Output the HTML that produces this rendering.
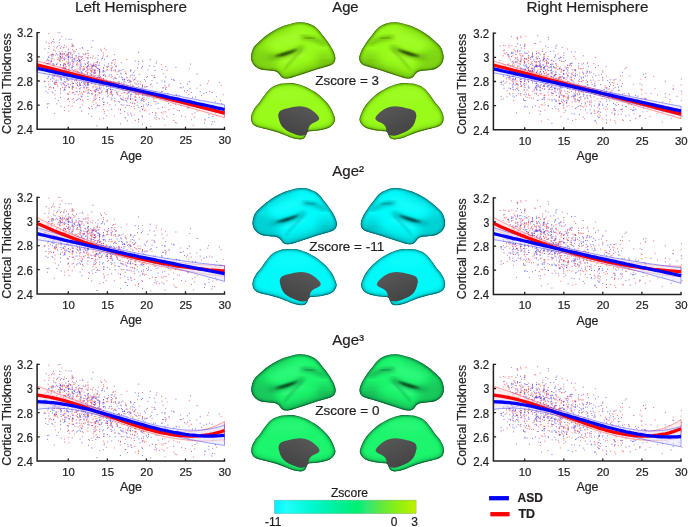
<!DOCTYPE html>
<html lang="en"><head><meta charset="utf-8"><title>Cortical thickness vs age</title>
<style>html,body{margin:0;padding:0;background:#fff}svg{display:block}text{font-family:"Liberation Sans",sans-serif;fill:#231f20;stroke:#231f20;stroke-width:.22px}</style>
</head><body>
<svg width="688" height="527" viewBox="0 0 688 527">
<defs>
<filter id="b07" x="-20%" y="-20%" width="140%" height="140%"><feGaussianBlur stdDeviation=".6"/></filter>
<filter id="b08" x="-20%" y="-40%" width="140%" height="180%"><feGaussianBlur stdDeviation=".85"/></filter>
<filter id="b1" x="-20%" y="-20%" width="140%" height="140%"><feGaussianBlur stdDeviation="1"/></filter>
<filter id="b2" x="-30%" y="-30%" width="160%" height="160%"><feGaussianBlur stdDeviation="2.2"/></filter>
<filter id="b4" x="-30%" y="-30%" width="160%" height="160%"><feGaussianBlur stdDeviation="4"/></filter>
<path id="lat" d="M251.00 57.50C250.98 56.27 251.22 54.83 251.50 53.50C251.78 52.17 252.17 50.75 252.70 49.50C253.23 48.25 253.77 47.17 254.70 46.00C255.63 44.83 257.05 43.68 258.30 42.50C259.55 41.32 260.75 40.13 262.20 38.90C263.65 37.67 265.45 36.25 267.00 35.10C268.55 33.95 269.87 33.02 271.50 32.00C273.13 30.98 275.03 29.92 276.80 29.00C278.57 28.08 280.32 27.22 282.10 26.50C283.88 25.78 285.72 25.25 287.50 24.70C289.28 24.15 291.22 23.58 292.80 23.20C294.38 22.82 295.80 22.57 297.00 22.40C298.20 22.23 298.63 22.15 300.00 22.20C301.37 22.25 303.58 22.38 305.20 22.70C306.82 23.02 308.18 23.50 309.70 24.10C311.22 24.70 312.90 25.42 314.30 26.30C315.70 27.18 316.97 28.25 318.10 29.40C319.23 30.55 320.10 31.93 321.10 33.20C322.10 34.47 323.08 35.68 324.10 37.00C325.12 38.32 326.18 39.68 327.20 41.10C328.22 42.52 329.28 44.05 330.20 45.50C331.12 46.95 331.98 48.38 332.70 49.80C333.42 51.22 334.07 52.72 334.50 54.00C334.93 55.28 335.20 56.47 335.30 57.50C335.40 58.53 335.32 59.32 335.10 60.20C334.88 61.08 334.57 62.05 334.00 62.80C333.43 63.55 332.72 64.13 331.70 64.70C330.68 65.27 329.42 65.68 327.90 66.20C326.38 66.72 324.37 67.28 322.60 67.80C320.83 68.32 319.20 68.73 317.30 69.30C315.40 69.87 313.22 70.55 311.20 71.20C309.18 71.85 307.22 72.52 305.20 73.20C303.18 73.88 301.13 74.63 299.10 75.30C297.07 75.97 294.68 76.70 293.00 77.20C291.32 77.70 290.17 78.07 289.00 78.30C287.83 78.53 286.92 78.62 286.00 78.60C285.08 78.58 284.20 78.43 283.50 78.20C282.80 77.97 282.35 77.67 281.80 77.20C281.25 76.73 280.72 76.02 280.20 75.40C279.68 74.78 279.27 74.08 278.70 73.50C278.13 72.92 277.62 72.33 276.80 71.90C275.98 71.47 275.07 71.12 273.80 70.90C272.53 70.68 270.85 70.75 269.20 70.60C267.55 70.45 265.53 70.28 263.90 70.00C262.27 69.72 260.72 69.40 259.40 68.90C258.08 68.40 257.02 67.77 256.00 67.00C254.98 66.23 254.03 65.32 253.30 64.30C252.57 63.28 251.98 62.03 251.60 60.90C251.22 59.77 251.02 58.73 251.00 57.50Z"/>
<path id="med" d="M251.00 117.90C251.05 116.70 251.30 115.33 251.70 114.10C252.10 112.87 252.72 111.77 253.40 110.50C254.08 109.23 254.93 107.67 255.80 106.50C256.67 105.33 257.68 104.63 258.60 103.50C259.52 102.37 260.42 100.97 261.30 99.70C262.18 98.43 263.02 97.10 263.90 95.90C264.78 94.70 265.72 93.57 266.60 92.50C267.48 91.43 268.25 90.42 269.20 89.50C270.15 88.58 271.15 87.72 272.30 87.00C273.45 86.28 274.72 85.73 276.10 85.20C277.48 84.67 278.97 84.13 280.60 83.80C282.23 83.47 284.25 83.32 285.90 83.20C287.55 83.08 289.05 83.05 290.50 83.10C291.95 83.15 293.03 83.23 294.60 83.50C296.17 83.77 298.13 84.15 299.90 84.70C301.67 85.25 303.43 86.00 305.20 86.80C306.97 87.60 308.87 88.62 310.50 89.50C312.13 90.38 313.48 91.08 315.00 92.10C316.52 93.12 318.20 94.45 319.60 95.60C321.00 96.75 322.13 97.75 323.40 99.00C324.67 100.25 326.07 101.72 327.20 103.10C328.33 104.48 329.32 105.90 330.20 107.30C331.08 108.70 331.83 110.10 332.50 111.50C333.17 112.90 333.77 114.45 334.20 115.70C334.63 116.95 335.03 118.00 335.10 119.00C335.17 120.00 335.03 120.68 334.60 121.70C334.17 122.72 333.35 124.15 332.50 125.10C331.65 126.05 330.63 126.77 329.50 127.40C328.37 128.03 327.10 128.47 325.70 128.90C324.30 129.33 322.75 129.68 321.10 130.00C319.45 130.32 317.45 130.60 315.80 130.80C314.15 131.00 312.43 131.10 311.20 131.20C309.97 131.30 309.08 131.18 308.40 131.40C307.72 131.62 307.45 131.97 307.10 132.50C306.75 133.03 306.62 133.87 306.30 134.60C305.98 135.33 305.63 136.23 305.20 136.90C304.77 137.57 304.47 138.17 303.70 138.60C302.93 139.03 301.75 139.42 300.60 139.50C299.45 139.58 298.07 139.32 296.80 139.10C295.53 138.88 294.05 138.47 293.00 138.20C291.95 137.93 291.80 137.98 290.50 137.50C289.20 137.02 286.97 136.02 285.20 135.30C283.43 134.58 281.67 133.85 279.90 133.20C278.13 132.55 276.38 131.95 274.60 131.40C272.82 130.85 270.98 130.35 269.20 129.90C267.42 129.45 265.53 129.08 263.90 128.70C262.27 128.32 260.78 128.02 259.40 127.60C258.02 127.18 256.68 126.75 255.60 126.20C254.52 125.65 253.60 125.12 252.90 124.30C252.20 123.48 251.72 122.37 251.40 121.30C251.08 120.23 250.95 119.10 251.00 117.90Z"/>
<path id="gry" d="M278.30 114.90C278.50 113.73 278.88 112.28 279.90 111.30C280.92 110.32 282.88 109.55 284.40 109.00C285.92 108.45 287.30 108.37 289.00 108.00C290.70 107.63 292.85 107.08 294.60 106.80C296.35 106.52 297.93 106.30 299.50 106.30C301.07 106.30 302.67 106.55 304.00 106.80C305.33 107.05 306.42 107.40 307.50 107.80C308.58 108.20 309.53 108.62 310.50 109.20C311.47 109.78 312.32 110.52 313.30 111.30C314.28 112.08 315.53 113.05 316.40 113.90C317.27 114.75 318.03 115.55 318.50 116.40C318.97 117.25 319.40 118.25 319.20 119.00C319.00 119.75 318.12 120.32 317.30 120.90C316.48 121.48 315.32 121.93 314.30 122.50C313.28 123.07 312.08 123.55 311.20 124.30C310.32 125.05 309.48 126.05 309.00 127.00C308.52 127.95 308.38 129.12 308.30 130.00C308.22 130.88 308.67 131.53 308.50 132.30C308.33 133.07 307.98 134.10 307.30 134.60C306.62 135.10 305.52 135.12 304.40 135.30C303.28 135.48 301.87 135.75 300.60 135.70C299.33 135.65 298.07 135.37 296.80 135.00C295.53 134.63 294.05 133.92 293.00 133.50C291.95 133.08 291.68 133.08 290.50 132.50C289.32 131.92 287.30 130.98 285.90 130.00C284.50 129.02 283.10 127.85 282.10 126.60C281.10 125.35 280.47 123.88 279.90 122.50C279.33 121.12 278.97 119.57 278.70 118.30C278.43 117.03 278.10 116.07 278.30 114.90Z"/>
<clipPath id="clat"><use href="#lat"/></clipPath>
<clipPath id="cmed"><use href="#med"/></clipPath>
<linearGradient id="cb" x1="0" y1="0" x2="1" y2="0">
<stop offset="0" stop-color="#00f0ff"/>
<stop offset="0.08" stop-color="#20ffff"/>
<stop offset="0.26" stop-color="#00f8d0"/>
<stop offset="0.43" stop-color="#00f0a0"/>
<stop offset="0.59" stop-color="#00f070"/>
<stop offset="0.65" stop-color="#30e878"/>
<stop offset="0.75" stop-color="#60e840"/>
<stop offset="0.88" stop-color="#90f010"/>
<stop offset="1" stop-color="#c0f000"/>
</linearGradient>
<linearGradient id="gg" x1="0.8" y1="0" x2="0.2" y2="1"><stop offset="0" stop-color="#585858"/><stop offset="1" stop-color="#424242"/></linearGradient>
</defs>
<g transform="translate(0 0)"><g id="br0"><g clip-path="url(#clat)"><use href="#lat" fill="#98fb1a"/><ellipse cx="263" cy="58.5" rx="15" ry="9" fill="#63aa10" opacity=".5" filter="url(#b4)" transform="rotate(20 263 58.5)"/><ellipse cx="325" cy="59.5" rx="10" ry="6.5" fill="#63aa10" opacity=".5" filter="url(#b4)"/><path d="M255 47C262 39 274 31.5 289 27" stroke="#63aa10" stroke-width="5" fill="none" stroke-linecap="round" filter="url(#b4)" opacity=".5"/><path d="M284 75.5C298 71.5 313 67 328 63" stroke="#63aa10" stroke-width="5" fill="none" stroke-linecap="round" filter="url(#b4)" opacity=".5"/><use href="#lat" fill="none" stroke="#63aa10" stroke-width="5" filter="url(#b2)" opacity=".55" transform="translate(0 -1.5)"/><use href="#lat" fill="none" stroke="#3c6e08" stroke-width="2.2" filter="url(#b1)" opacity=".8"/><use href="#lat" fill="none" stroke="#3c6e08" stroke-width="1.3" filter="url(#b07)" opacity=".9" transform="translate(0 -.25)"/><path d="M283 61C290 58.5 297 56 303 53" stroke="#b0ff40" stroke-width="4" fill="none" stroke-linecap="round" filter="url(#b2)" opacity=".7"/><ellipse cx="288" cy="40" rx="20" ry="6" fill="#b0ff40" opacity=".45" filter="url(#b4)" transform="rotate(-18 288 40)"/><path d="M270.5 57.3C281 56.8 293 53 302 47.6" stroke="#63aa10" stroke-width="4" fill="none" stroke-linecap="round" filter="url(#b2)" opacity=".85"/><path d="M275 56.2C281 54 289 51.4 297 49.5C290.5 53.6 282 56.4 275 56.2Z" fill="#030800" fill-opacity=".95" stroke="#030800" stroke-opacity=".6" stroke-width=".6" filter="url(#b08)"/><path d="M302 37C308 37.5 316 38.8 324.5 44" stroke="#63aa10" stroke-width="3" fill="none" stroke-linecap="round" filter="url(#b2)"/><path d="M305 37.3C308 37.5 311 38 314 38.6" stroke="#3c6e08" stroke-width="1.2" fill="none" stroke-linecap="round" filter="url(#b1)" opacity=".8"/><path d="M301.5 50.5C297 55 289 63 284.5 69.5" stroke="#63aa10" stroke-width="1.8" fill="none" stroke-linecap="round" filter="url(#b1)" opacity=".55"/></g><g clip-path="url(#cmed)"><use href="#med" fill="#98fb1a"/><use href="#med" fill="none" stroke="#63aa10" stroke-width="4.4" filter="url(#b2)" opacity=".45" transform="translate(0 -0.8)"/><use href="#med" fill="none" stroke="#3c6e08" stroke-width="2" filter="url(#b1)" opacity=".75"/><use href="#med" fill="none" stroke="#3c6e08" stroke-width="1.3" filter="url(#b07)" opacity=".9" transform="translate(0 -.25)"/><ellipse cx="290" cy="95" rx="22" ry="6" fill="#b0ff40" opacity=".3" filter="url(#b4)"/><use href="#gry" fill="url(#gg)"/></g></g>
<g transform="translate(694.6 0) scale(-1 1)"><use href="#br0"/></g></g>
<g transform="translate(1.5 165.8)"><g id="br165"><g clip-path="url(#clat)"><use href="#lat" fill="#00fafa"/><ellipse cx="263" cy="58.5" rx="15" ry="9" fill="#00a4aa" opacity=".5" filter="url(#b4)" transform="rotate(20 263 58.5)"/><ellipse cx="325" cy="59.5" rx="10" ry="6.5" fill="#00a4aa" opacity=".5" filter="url(#b4)"/><path d="M255 47C262 39 274 31.5 289 27" stroke="#00a4aa" stroke-width="5" fill="none" stroke-linecap="round" filter="url(#b4)" opacity=".5"/><path d="M284 75.5C298 71.5 313 67 328 63" stroke="#00a4aa" stroke-width="5" fill="none" stroke-linecap="round" filter="url(#b4)" opacity=".5"/><use href="#lat" fill="none" stroke="#00a4aa" stroke-width="5" filter="url(#b2)" opacity=".55" transform="translate(0 -1.5)"/><use href="#lat" fill="none" stroke="#006a70" stroke-width="2.2" filter="url(#b1)" opacity=".8"/><use href="#lat" fill="none" stroke="#006a70" stroke-width="1.3" filter="url(#b07)" opacity=".9" transform="translate(0 -.25)"/><path d="M283 61C290 58.5 297 56 303 53" stroke="#30ffff" stroke-width="4" fill="none" stroke-linecap="round" filter="url(#b2)" opacity=".7"/><ellipse cx="288" cy="40" rx="20" ry="6" fill="#30ffff" opacity=".45" filter="url(#b4)" transform="rotate(-18 288 40)"/><path d="M270.5 57.3C281 56.8 293 53 302 47.6" stroke="#00a4aa" stroke-width="4" fill="none" stroke-linecap="round" filter="url(#b2)" opacity=".85"/><path d="M275 56.2C281 54 289 51.4 297 49.5C290.5 53.6 282 56.4 275 56.2Z" fill="#030800" fill-opacity=".95" stroke="#030800" stroke-opacity=".6" stroke-width=".6" filter="url(#b08)"/><path d="M302 37C308 37.5 316 38.8 324.5 44" stroke="#00a4aa" stroke-width="3" fill="none" stroke-linecap="round" filter="url(#b2)"/><path d="M305 37.3C308 37.5 311 38 314 38.6" stroke="#006a70" stroke-width="1.2" fill="none" stroke-linecap="round" filter="url(#b1)" opacity=".8"/><path d="M301.5 50.5C297 55 289 63 284.5 69.5" stroke="#00a4aa" stroke-width="1.8" fill="none" stroke-linecap="round" filter="url(#b1)" opacity=".55"/></g><g clip-path="url(#cmed)"><use href="#med" fill="#00fafa"/><use href="#med" fill="none" stroke="#00a4aa" stroke-width="4.4" filter="url(#b2)" opacity=".45" transform="translate(0 -0.8)"/><use href="#med" fill="none" stroke="#006a70" stroke-width="2" filter="url(#b1)" opacity=".75"/><use href="#med" fill="none" stroke="#006a70" stroke-width="1.3" filter="url(#b07)" opacity=".9" transform="translate(0 -.25)"/><ellipse cx="290" cy="95" rx="22" ry="6" fill="#30ffff" opacity=".3" filter="url(#b4)"/><use href="#gry" fill="url(#gg)"/></g></g>
<g transform="translate(694.6 0) scale(-1 1)"><use href="#br165"/></g></g>
<g transform="translate(0.3 332)"><g id="br332"><g clip-path="url(#clat)"><use href="#lat" fill="#1cf56c"/><ellipse cx="263" cy="58.5" rx="15" ry="9" fill="#15994c" opacity=".5" filter="url(#b4)" transform="rotate(20 263 58.5)"/><ellipse cx="325" cy="59.5" rx="10" ry="6.5" fill="#15994c" opacity=".5" filter="url(#b4)"/><path d="M255 47C262 39 274 31.5 289 27" stroke="#15994c" stroke-width="5" fill="none" stroke-linecap="round" filter="url(#b4)" opacity=".5"/><path d="M284 75.5C298 71.5 313 67 328 63" stroke="#15994c" stroke-width="5" fill="none" stroke-linecap="round" filter="url(#b4)" opacity=".5"/><use href="#lat" fill="none" stroke="#15994c" stroke-width="5" filter="url(#b2)" opacity=".55" transform="translate(0 -1.5)"/><use href="#lat" fill="none" stroke="#0b6330" stroke-width="2.2" filter="url(#b1)" opacity=".8"/><use href="#lat" fill="none" stroke="#0b6330" stroke-width="1.3" filter="url(#b07)" opacity=".9" transform="translate(0 -.25)"/><path d="M283 61C290 58.5 297 56 303 53" stroke="#48ff90" stroke-width="4" fill="none" stroke-linecap="round" filter="url(#b2)" opacity=".7"/><ellipse cx="288" cy="40" rx="20" ry="6" fill="#48ff90" opacity=".45" filter="url(#b4)" transform="rotate(-18 288 40)"/><path d="M270.5 57.3C281 56.8 293 53 302 47.6" stroke="#15994c" stroke-width="4" fill="none" stroke-linecap="round" filter="url(#b2)" opacity=".85"/><path d="M275 56.2C281 54 289 51.4 297 49.5C290.5 53.6 282 56.4 275 56.2Z" fill="#030800" fill-opacity=".95" stroke="#030800" stroke-opacity=".6" stroke-width=".6" filter="url(#b08)"/><path d="M302 37C308 37.5 316 38.8 324.5 44" stroke="#15994c" stroke-width="3" fill="none" stroke-linecap="round" filter="url(#b2)"/><path d="M305 37.3C308 37.5 311 38 314 38.6" stroke="#0b6330" stroke-width="1.2" fill="none" stroke-linecap="round" filter="url(#b1)" opacity=".8"/><path d="M301.5 50.5C297 55 289 63 284.5 69.5" stroke="#15994c" stroke-width="1.8" fill="none" stroke-linecap="round" filter="url(#b1)" opacity=".55"/></g><g clip-path="url(#cmed)"><use href="#med" fill="#1cf56c"/><use href="#med" fill="none" stroke="#15994c" stroke-width="4.4" filter="url(#b2)" opacity=".45" transform="translate(0 -0.8)"/><use href="#med" fill="none" stroke="#0b6330" stroke-width="2" filter="url(#b1)" opacity=".75"/><use href="#med" fill="none" stroke="#0b6330" stroke-width="1.3" filter="url(#b07)" opacity=".9" transform="translate(0 -.25)"/><ellipse cx="290" cy="95" rx="22" ry="6" fill="#48ff90" opacity=".3" filter="url(#b4)"/><use href="#gry" fill="url(#gg)"/></g></g>
<g transform="translate(694.6 0) scale(-1 1)"><use href="#br332"/></g></g>
<g id="dotsL">
<path d="M96.4 89.1h.01M84.0 88.2h.01M79.1 59.9h.01M99.6 119.0h.01M77.9 78.3h.01M120.3 113.5h.01M101.1 87.9h.01M95.7 66.6h.01M56.8 76.6h.01M48.8 63.2h.01M58.2 80.1h.01M103.4 53.0h.01M94.3 65.1h.01M53.8 49.3h.01M103.5 102.3h.01M68.6 86.9h.01M68.6 54.0h.01M144.1 99.4h.01M91.7 81.8h.01M99.2 75.6h.01M99.6 99.8h.01M53.5 54.6h.01M101.7 81.3h.01M59.5 60.5h.01M125.2 100.3h.01M130.8 84.4h.01M130.5 102.7h.01M72.3 57.0h.01M78.8 56.4h.01M59.8 54.0h.01M87.9 68.8h.01M162.2 91.5h.01M68.9 111.2h.01M48.1 52.5h.01M92.3 82.3h.01M131.8 91.1h.01M82.0 78.8h.01M193.3 125.3h.01M84.4 83.5h.01M91.8 68.0h.01M61.3 46.8h.01M79.5 83.1h.01M129.6 105.4h.01M130.6 70.2h.01M155.5 112.9h.01M126.9 59.5h.01M112.7 84.9h.01M47.7 78.4h.01M64.4 54.2h.01M73.8 46.3h.01M120.5 110.2h.01M88.0 53.1h.01M122.0 93.3h.01M93.1 56.0h.01M62.6 74.3h.01M67.3 93.7h.01M105.1 75.3h.01M74.8 58.2h.01M48.8 33.6h.01M113.6 60.0h.01M142.5 85.5h.01M135.9 97.5h.01M137.3 102.2h.01M53.7 70.8h.01M185.5 116.7h.01M85.5 79.9h.01M64.4 107.4h.01M76.3 69.9h.01M69.0 70.8h.01M91.8 66.5h.01M97.0 87.1h.01M83.5 66.5h.01M96.7 98.3h.01M84.5 84.5h.01M68.6 98.4h.01M72.4 49.7h.01M112.2 76.6h.01M55.0 84.4h.01M73.5 72.7h.01M134.7 79.1h.01M99.5 73.3h.01M118.4 82.0h.01M90.5 90.5h.01M59.2 77.3h.01M77.4 71.6h.01M95.0 65.2h.01M77.4 85.5h.01M84.0 92.1h.01M97.4 62.7h.01M131.3 106.4h.01M76.1 56.3h.01M148.4 94.0h.01M90.6 64.2h.01M137.5 68.0h.01M146.4 86.7h.01M191.4 92.6h.01M142.6 109.8h.01M143.4 106.7h.01M188.8 94.6h.01M51.5 42.7h.01M63.5 47.8h.01M142.5 61.0h.01M47.1 60.3h.01M99.6 77.8h.01M98.1 65.1h.01M54.0 66.1h.01M64.5 70.0h.01M121.2 104.6h.01M115.8 71.9h.01M72.8 87.7h.01M66.6 61.9h.01M69.3 91.9h.01M111.3 68.6h.01M56.0 82.4h.01M92.6 65.5h.01M55.0 90.6h.01M135.1 100.2h.01M99.6 63.0h.01M162.9 113.4h.01M46.4 63.8h.01M48.4 72.4h.01M72.2 106.2h.01M177.7 98.9h.01M60.1 61.3h.01M162.0 117.8h.01M99.6 72.2h.01M99.6 92.8h.01M123.8 104.9h.01M62.8 68.5h.01M72.0 81.6h.01M58.1 32.8h.01M96.1 103.0h.01M209.6 91.6h.01M78.8 58.5h.01M114.4 116.2h.01M107.9 110.1h.01M99.6 72.3h.01M85.6 83.1h.01M165.4 95.9h.01M96.2 62.4h.01M75.9 78.1h.01M149.4 114.0h.01M106.2 80.2h.01M88.1 90.7h.01M189.4 99.6h.01M93.9 75.2h.01M73.4 92.6h.01M121.3 62.8h.01M82.8 58.5h.01M93.6 65.8h.01M81.2 92.2h.01M87.4 82.6h.01M52.7 74.4h.01M68.3 76.4h.01M69.6 87.5h.01M84.0 68.7h.01M103.5 78.8h.01M64.0 63.4h.01M88.1 84.3h.01M111.3 65.7h.01M60.5 65.2h.01M64.4 110.4h.01M192.2 114.0h.01M123.0 90.3h.01M87.9 62.0h.01M56.7 71.6h.01M188.3 108.1h.01M64.4 79.1h.01M77.5 63.0h.01M88.0 83.4h.01M110.2 93.9h.01M94.7 90.2h.01M92.9 70.0h.01M223.6 109.2h.01M98.8 105.8h.01M115.2 77.2h.01M132.8 103.4h.01M51.3 60.4h.01M72.2 65.7h.01M69.4 52.3h.01M94.0 63.0h.01M60.5 76.7h.01M60.5 70.5h.01M156.2 119.2h.01M80.0 48.6h.01M91.8 71.3h.01M83.1 53.9h.01M55.1 71.5h.01M88.6 107.8h.01M152.0 75.5h.01M69.2 69.0h.01M115.1 84.5h.01M153.9 98.3h.01M59.3 57.9h.01M138.6 86.7h.01M48.8 89.3h.01M126.4 74.2h.01M81.5 82.4h.01M60.5 75.0h.01M87.9 50.5h.01M72.2 57.5h.01M52.7 71.2h.01M150.7 126.3h.01M156.9 97.5h.01M62.8 60.5h.01M80.0 75.1h.01M76.1 91.4h.01M84.0 87.1h.01M57.8 86.2h.01M142.5 92.7h.01M96.5 67.3h.01M64.4 53.6h.01M76.1 83.6h.01M69.3 66.9h.01M87.2 68.0h.01M125.8 98.2h.01M126.7 93.0h.01M61.9 36.3h.01M98.7 77.4h.01M66.1 56.2h.01M51.1 72.3h.01M62.0 67.7h.01M93.9 104.6h.01M53.8 66.7h.01M70.3 52.8h.01M114.4 54.6h.01M70.9 52.9h.01M68.3 59.8h.01M64.4 68.2h.01M49.8 74.5h.01M83.8 77.6h.01M95.1 69.9h.01M98.6 92.3h.01M62.9 54.6h.01M63.5 83.7h.01M135.3 120.5h.01M64.4 84.3h.01M82.5 99.9h.01M60.5 88.7h.01M62.1 51.3h.01M54.1 69.4h.01M181.6 100.7h.01M80.9 56.7h.01M49.1 46.3h.01M95.7 87.0h.01M92.5 58.2h.01M93.6 72.8h.01M173.1 103.0h.01M90.7 70.9h.01M93.6 100.2h.01M72.2 83.2h.01M62.8 70.2h.01M92.0 68.9h.01M87.9 82.2h.01M64.4 71.0h.01M76.1 57.9h.01M95.7 58.1h.01M99.6 69.2h.01M74.0 52.8h.01M47.4 71.1h.01M103.1 86.8h.01M80.1 69.1h.01M64.4 73.6h.01M76.0 80.2h.01M59.4 42.8h.01M103.5 85.3h.01M79.6 88.3h.01M52.7 58.7h.01M107.4 56.0h.01M114.6 85.2h.01M86.0 57.3h.01M117.1 93.9h.01M54.0 73.8h.01M164.0 111.9h.01M107.1 85.8h.01M147.9 69.8h.01M54.3 83.9h.01M72.2 46.6h.01M80.0 89.1h.01M212.0 105.8h.01M92.1 65.5h.01M58.3 57.9h.01M116.8 82.9h.01M99.6 105.7h.01M69.5 65.1h.01M134.4 108.8h.01M156.8 61.1h.01M84.0 78.4h.01M63.8 66.0h.01M125.4 107.6h.01M110.8 92.2h.01M82.2 94.1h.01M67.1 55.0h.01M83.2 78.9h.01M114.5 77.9h.01M95.8 89.7h.01M123.0 97.0h.01M207.7 83.6h.01M111.3 99.8h.01M138.6 121.9h.01M94.7 72.9h.01M94.3 96.1h.01M177.3 110.2h.01M187.5 90.5h.01M88.8 89.3h.01M137.8 81.2h.01M54.1 76.7h.01M112.2 63.0h.01M53.9 46.4h.01M120.6 95.7h.01M80.0 77.1h.01M86.7 88.7h.01M65.9 66.5h.01M107.4 66.4h.01M131.0 114.1h.01M65.7 55.5h.01M82.7 94.7h.01M107.4 96.7h.01M73.5 98.7h.01M167.1 70.3h.01M106.4 82.4h.01M91.2 74.1h.01M101.6 91.8h.01M68.0 54.0h.01M55.2 98.4h.01M68.3 69.8h.01M106.1 49.9h.01M83.2 80.7h.01M66.5 69.4h.01M63.3 58.6h.01M95.2 91.5h.01M82.6 74.4h.01M132.5 78.2h.01M63.0 65.7h.01M91.8 72.4h.01M82.1 79.9h.01M119.1 83.3h.01M77.4 72.1h.01M208.5 81.0h.01M130.8 81.2h.01M72.2 75.0h.01M88.5 113.7h.01M130.8 81.4h.01M51.5 54.4h.01M70.4 84.6h.01M74.4 102.2h.01M44.9 81.8h.01M108.0 70.0h.01M48.8 81.4h.01M59.4 74.6h.01M99.6 77.5h.01M112.5 67.1h.01M110.2 85.0h.01M84.0 76.7h.01M76.4 80.9h.01M52.7 41.5h.01M221.2 85.1h.01M175.6 104.8h.01M72.2 92.4h.01M94.0 90.7h.01M84.8 66.8h.01M80.0 84.8h.01M61.9 54.9h.01M86.8 70.7h.01M134.7 89.1h.01M87.9 66.7h.01M108.8 76.7h.01M194.7 117.2h.01M100.0 85.9h.01M189.3 69.0h.01M72.4 89.6h.01M130.3 99.1h.01M181.4 87.9h.01M135.5 96.2h.01M72.5 83.7h.01M80.0 93.9h.01M73.0 63.5h.01M111.3 69.8h.01M88.3 55.6h.01M68.3 69.4h.01M59.2 51.9h.01M73.1 87.2h.01M94.2 76.3h.01M132.3 102.9h.01M113.2 83.3h.01M128.4 80.0h.01M169.0 86.2h.01M115.1 101.5h.01M56.6 47.9h.01M87.9 83.7h.01M56.6 82.5h.01M101.0 83.9h.01M51.3 87.9h.01M92.6 78.2h.01M100.5 76.8h.01M123.8 92.7h.01M94.8 71.0h.01M78.8 78.2h.01M137.7 94.4h.01M78.1 95.0h.01M64.3 68.4h.01M78.4 86.2h.01M55.1 73.4h.01M103.0 83.5h.01M50.5 62.7h.01M138.5 119.6h.01M93.1 102.0h.01M128.4 95.9h.01M60.1 60.7h.01M185.8 98.8h.01M163.2 87.8h.01M146.4 77.5h.01M91.8 70.5h.01M136.6 94.4h.01M92.8 93.9h.01M167.0 116.3h.01M50.9 72.8h.01M97.1 75.9h.01M175.2 100.0h.01M138.6 94.7h.01M142.5 98.3h.01M136.9 84.7h.01M103.3 79.0h.01M65.6 64.9h.01M119.1 83.4h.01M79.7 82.0h.01M85.3 91.2h.01M90.9 70.2h.01M95.5 73.0h.01M64.4 72.4h.01M130.3 98.3h.01M104.6 48.3h.01M161.4 112.4h.01M134.7 96.8h.01M100.9 77.3h.01M57.3 84.6h.01M94.3 77.1h.01M103.5 55.1h.01M107.4 69.6h.01M97.9 70.7h.01M76.9 63.9h.01M146.4 95.4h.01M103.5 67.8h.01M154.4 101.6h.01M71.4 77.5h.01M110.8 83.4h.01M165.4 88.1h.01M165.9 96.8h.01M61.6 58.1h.01M92.3 108.7h.01M82.4 56.7h.01M165.7 66.5h.01M115.8 66.7h.01M72.2 76.1h.01M95.0 92.0h.01M77.9 69.0h.01M97.7 95.0h.01M80.1 62.9h.01M106.1 91.2h.01M166.4 87.4h.01M139.2 74.4h.01M130.3 87.6h.01M134.7 104.0h.01M118.4 109.1h.01M93.1 87.8h.01M46.0 68.0h.01M63.0 53.1h.01M87.9 99.5h.01M115.2 70.7h.01M65.9 39.0h.01M95.3 70.2h.01M90.0 69.1h.01M90.5 77.7h.01M95.7 97.1h.01M125.0 82.1h.01M83.0 69.1h.01M89.8 66.2h.01M80.9 63.2h.01M68.3 63.7h.01M115.0 63.0h.01M214.7 122.0h.01M72.2 88.6h.01M117.4 93.1h.01M98.5 90.3h.01M50.1 55.1h.01M46.3 69.6h.01M72.2 45.1h.01M87.9 53.6h.01M55.3 55.1h.01M62.3 74.3h.01M64.6 59.8h.01M62.5 56.3h.01M56.3 83.0h.01M83.8 69.9h.01M124.7 79.4h.01M103.5 79.0h.01M64.4 45.3h.01M87.9 58.2h.01M95.7 91.8h.01M48.2 63.3h.01M143.9 109.0h.01M69.0 61.6h.01M56.2 80.0h.01M60.5 54.1h.01M80.8 68.3h.01M68.2 55.5h.01M142.5 98.1h.01M81.9 96.5h.01M53.5 39.6h.01M44.9 67.2h.01M73.6 51.0h.01M223.3 94.7h.01M60.5 57.8h.01M163.1 73.7h.01M64.4 63.9h.01M85.6 54.6h.01M103.9 104.8h.01M87.7 63.4h.01M44.9 68.2h.01M71.1 73.0h.01M107.4 83.6h.01M73.3 66.4h.01M112.8 60.7h.01M54.8 94.6h.01M59.8 67.1h.01M87.9 87.4h.01M87.8 58.9h.01M135.2 100.0h.01M80.0 67.0h.01M94.3 84.9h.01M87.9 66.5h.01M113.7 70.7h.01M111.3 91.2h.01M91.8 77.2h.01M134.7 114.9h.01M177.1 98.9h.01M68.3 57.2h.01M72.2 79.7h.01M72.2 54.4h.01M69.3 101.7h.01M72.2 99.3h.01M94.7 100.0h.01M130.8 99.5h.01M69.8 70.3h.01M111.3 86.3h.01M77.3 74.0h.01M102.6 71.0h.01M127.5 98.2h.01M62.5 87.6h.01M64.4 87.8h.01M100.6 49.3h.01M68.3 105.7h.01M89.6 79.9h.01M155.1 77.5h.01M68.2 62.8h.01M64.4 81.6h.01M98.4 80.3h.01M80.0 60.8h.01M121.1 70.5h.01M87.9 90.1h.01M60.5 56.5h.01M46.5 61.0h.01M106.4 66.7h.01M68.6 49.3h.01M95.7 84.6h.01M49.3 87.3h.01M67.4 63.9h.01M106.8 56.7h.01M144.9 86.3h.01M146.7 93.7h.01M161.6 64.7h.01M91.8 93.7h.01M140.2 81.6h.01M105.9 91.8h.01M82.0 73.8h.01M75.2 70.9h.01M66.5 46.8h.01M144.4 110.6h.01M93.0 86.5h.01M68.0 94.1h.01M87.9 69.2h.01M212.3 109.1h.01M54.3 60.1h.01M54.9 82.8h.01M173.7 108.5h.01M53.9 50.7h.01M170.8 105.3h.01M72.2 61.9h.01M111.3 77.2h.01M164.9 107.0h.01M165.2 125.2h.01M130.1 77.1h.01M91.0 75.1h.01M81.5 59.5h.01M82.3 105.0h.01M106.4 115.7h.01M156.2 113.0h.01M44.8 48.8h.01M79.0 65.0h.01M103.5 82.8h.01M78.1 71.3h.01M60.5 56.5h.01M116.9 91.8h.01M138.0 88.6h.01M65.7 67.3h.01M111.3 91.0h.01M180.6 83.4h.01M91.1 83.7h.01M146.4 99.3h.01M111.3 94.3h.01M76.4 80.0h.01M125.4 73.3h.01M115.2 90.6h.01M191.5 119.8h.01M54.4 113.5h.01M55.2 75.3h.01M67.6 99.6h.01M125.7 117.9h.01M152.1 86.7h.01M88.2 66.0h.01M104.3 111.5h.01M95.0 66.3h.01M51.4 58.9h.01M66.1 81.3h.01M142.5 84.9h.01M138.6 119.3h.01M159.4 118.7h.01M127.8 112.9h.01M44.2 81.2h.01M106.4 70.1h.01M109.7 104.7h.01M55.6 84.1h.01M216.7 115.5h.01M87.5 73.5h.01M144.0 101.5h.01M133.5 80.1h.01M123.2 100.3h.01M176.8 123.0h.01M87.8 84.2h.01M144.0 95.9h.01M114.8 100.6h.01M57.8 63.2h.01M72.2 44.0h.01M58.2 76.3h.01M52.3 65.5h.01M115.9 66.6h.01M54.3 76.4h.01M145.9 109.9h.01M83.5 91.7h.01M83.1 69.1h.01M57.3 59.6h.01M110.6 87.4h.01M64.2 68.6h.01M125.2 71.3h.01M126.9 78.0h.01M50.4 87.0h.01M116.3 87.4h.01M46.9 63.6h.01M134.7 82.9h.01M44.9 68.3h.01M61.0 78.2h.01M168.8 109.6h.01M103.5 109.5h.01M128.1 92.0h.01M44.5 73.9h.01M132.9 86.3h.01M65.9 85.4h.01M197.2 111.2h.01M95.5 94.5h.01M89.1 93.6h.01M51.4 55.7h.01M64.4 76.6h.01M91.8 71.8h.01M173.7 120.5h.01M166.9 101.1h.01M83.2 101.0h.01M58.7 75.3h.01M57.2 75.3h.01M201.5 95.6h.01M106.7 81.3h.01M60.5 71.2h.01M186.3 92.2h.01M119.1 85.8h.01M132.8 85.3h.01M138.7 83.8h.01M109.3 86.1h.01M75.1 77.3h.01M51.1 61.5h.01M55.5 73.7h.01M64.8 64.0h.01M118.3 71.7h.01M68.4 58.0h.01M135.3 100.1h.01M141.9 115.8h.01M187.2 105.8h.01M190.0 106.9h.01M196.8 88.2h.01M104.0 88.9h.01M100.9 85.2h.01M72.1 60.9h.01M106.5 91.3h.01M99.9 84.0h.01M72.2 46.2h.01M48.9 43.6h.01M176.1 94.6h.01M122.6 86.0h.01M62.8 83.9h.01M77.2 65.2h.01M135.7 93.6h.01M75.2 69.7h.01M111.3 93.7h.01M153.8 100.0h.01M141.4 99.1h.01M87.9 72.5h.01" stroke="#ff2a2a" stroke-opacity="0.7" stroke-width=".95" stroke-linecap="square" fill="none"/>
<path d="M181.6 116.0h.01M51.4 61.6h.01M52.7 78.3h.01M121.5 99.1h.01M73.1 64.8h.01M68.7 65.3h.01M55.0 82.0h.01M179.4 110.6h.01M165.7 89.5h.01M87.1 72.1h.01M72.7 86.1h.01M126.9 85.1h.01M148.1 95.0h.01M111.3 68.0h.01M91.8 91.0h.01M60.3 59.2h.01M103.5 75.5h.01M65.8 87.3h.01M53.1 55.8h.01M88.8 64.7h.01M155.3 115.4h.01M162.0 69.6h.01M77.0 91.5h.01M76.3 88.1h.01M187.8 107.5h.01M103.5 70.6h.01M140.1 84.0h.01M90.3 79.5h.01M130.8 70.0h.01M99.3 74.7h.01M174.0 80.5h.01M58.3 68.9h.01M120.4 123.8h.01M48.2 77.1h.01M118.3 101.6h.01M159.1 96.1h.01M119.1 84.8h.01M102.6 99.2h.01M126.9 105.2h.01M102.1 85.2h.01M54.7 74.0h.01M91.7 116.3h.01M66.0 58.7h.01M189.8 102.7h.01M134.9 91.0h.01M90.0 73.8h.01M112.1 99.1h.01M84.0 77.3h.01M183.3 87.1h.01M68.5 57.6h.01M161.7 91.3h.01M63.8 76.5h.01M80.8 87.8h.01M108.5 63.9h.01M122.6 79.6h.01M158.1 103.3h.01M80.1 107.4h.01M66.7 85.7h.01M95.8 107.8h.01M67.7 54.9h.01M79.9 72.9h.01M60.9 82.9h.01M131.7 94.0h.01M92.9 40.7h.01M133.3 72.5h.01M95.5 99.3h.01M73.2 76.1h.01M122.0 105.2h.01M60.5 97.3h.01M68.3 70.7h.01M150.3 59.6h.01M102.6 58.4h.01M138.6 91.3h.01M110.8 89.4h.01M57.8 68.6h.01M79.4 60.3h.01M154.8 117.9h.01M91.8 106.2h.01M138.6 64.1h.01M98.3 76.1h.01M60.5 48.2h.01M145.1 90.2h.01M84.0 54.7h.01M195.1 112.8h.01M87.9 70.2h.01M75.0 51.5h.01M79.8 60.5h.01M107.4 89.7h.01M48.8 57.3h.01M80.0 85.6h.01M45.9 91.6h.01M147.2 86.5h.01M97.9 59.3h.01M145.5 81.2h.01M204.5 123.0h.01M72.6 61.1h.01M150.3 85.0h.01M66.9 79.9h.01M47.4 107.6h.01M119.2 71.1h.01M68.3 60.0h.01M216.7 96.8h.01M131.7 115.8h.01M47.9 92.8h.01M95.9 64.5h.01M73.4 62.2h.01M136.0 83.8h.01M85.6 80.7h.01M167.9 93.5h.01M128.3 97.1h.01M118.9 90.9h.01M72.2 87.0h.01M93.0 75.0h.01M68.8 79.6h.01M61.2 57.8h.01M104.8 71.3h.01M122.0 99.3h.01M82.9 48.8h.01M99.6 97.5h.01M63.5 65.7h.01M72.0 57.7h.01M76.1 55.6h.01M48.8 103.7h.01M74.0 59.3h.01M60.5 53.6h.01M78.8 53.8h.01M47.3 103.9h.01M112.6 94.5h.01M165.3 100.3h.01M87.9 84.3h.01M114.3 64.7h.01M96.2 89.9h.01M130.8 71.2h.01M94.5 70.8h.01M52.9 92.9h.01M205.0 119.2h.01M52.0 78.0h.01M120.8 85.3h.01M134.2 75.7h.01M56.0 74.1h.01M76.1 61.1h.01M80.5 99.5h.01M96.9 125.9h.01M130.8 94.8h.01M56.6 64.5h.01M84.7 82.2h.01M138.9 107.3h.01M144.9 87.3h.01M149.7 65.8h.01M133.9 92.1h.01M84.0 87.5h.01M61.2 84.8h.01M154.2 66.5h.01M87.9 78.2h.01M129.9 80.2h.01M62.4 53.8h.01M52.7 54.7h.01M111.0 97.8h.01M190.0 88.7h.01M74.0 61.6h.01M56.6 64.0h.01M115.4 69.9h.01M110.7 92.3h.01M74.2 75.5h.01M53.9 79.0h.01M184.5 91.0h.01M77.3 84.9h.01M176.7 95.2h.01M53.5 87.6h.01M104.9 84.0h.01M66.6 78.4h.01M82.8 78.0h.01M114.8 83.0h.01M81.6 78.8h.01M128.7 92.4h.01M104.2 113.2h.01M68.3 56.6h.01M56.2 80.8h.01M64.4 76.3h.01M134.7 103.3h.01M60.2 56.8h.01M48.8 84.2h.01M130.8 82.1h.01M147.4 76.6h.01M57.4 46.7h.01M123.0 69.5h.01M70.2 64.3h.01M60.5 90.0h.01M116.1 65.9h.01M61.0 54.1h.01M121.2 74.2h.01M87.9 65.4h.01M57.5 70.3h.01M142.3 100.7h.01M68.2 56.9h.01M79.7 56.3h.01M119.6 102.0h.01M156.9 83.0h.01M73.8 70.5h.01M91.8 65.1h.01M63.3 68.2h.01M52.7 54.1h.01M107.5 67.3h.01M120.7 73.2h.01M164.1 119.2h.01M85.5 64.4h.01M221.3 103.3h.01M64.5 89.3h.01M70.1 62.8h.01M104.2 102.3h.01M48.8 56.9h.01M115.3 59.5h.01M88.6 85.1h.01M96.8 65.8h.01M53.3 64.0h.01M80.5 65.8h.01M115.2 105.1h.01M122.5 77.8h.01M97.2 77.7h.01M126.9 77.2h.01M87.0 76.9h.01M57.8 54.8h.01M65.8 68.4h.01M162.8 87.8h.01M111.3 63.1h.01M66.1 69.8h.01M132.6 75.0h.01M220.6 100.4h.01M44.9 62.1h.01M107.4 90.3h.01M98.1 68.2h.01M187.4 84.1h.01M131.5 90.7h.01M59.0 59.5h.01M115.8 78.5h.01M134.0 106.7h.01M80.0 70.0h.01M87.9 57.4h.01M61.4 78.9h.01M128.1 115.0h.01M95.5 76.0h.01M130.4 98.7h.01M82.3 47.5h.01M67.1 73.2h.01M71.9 73.5h.01M215.5 113.1h.01M165.0 94.6h.01M148.5 102.6h.01M165.9 111.9h.01M87.9 78.0h.01M95.7 91.1h.01M55.7 51.2h.01M128.0 105.7h.01M160.9 98.4h.01M80.3 85.4h.01M211.8 124.3h.01M64.1 47.3h.01M89.5 108.6h.01M101.4 59.1h.01M156.8 117.2h.01M167.6 97.5h.01M68.9 39.3h.01M142.5 124.0h.01M74.9 94.4h.01M134.7 70.9h.01M87.1 74.3h.01M140.9 100.2h.01M84.4 76.6h.01M141.5 106.5h.01M69.4 71.1h.01M104.5 59.3h.01M127.6 93.9h.01M97.4 77.4h.01M72.2 55.7h.01M197.2 73.9h.01M80.0 83.8h.01M155.4 91.5h.01M85.8 84.8h.01M117.4 94.7h.01M110.4 89.1h.01M83.1 85.2h.01M97.5 105.1h.01M58.4 100.6h.01M86.7 87.5h.01M90.8 75.8h.01M97.4 61.5h.01M68.7 80.6h.01M72.2 76.0h.01M48.9 60.3h.01M151.3 84.0h.01M72.2 75.2h.01M62.8 72.6h.01M46.3 42.1h.01M72.2 78.4h.01M143.5 100.0h.01M47.6 63.5h.01M193.3 106.9h.01M73.1 45.4h.01M61.8 76.6h.01M92.9 66.3h.01M87.9 63.2h.01M141.5 67.9h.01M87.9 96.4h.01M85.8 53.4h.01M96.2 79.0h.01M121.3 87.9h.01M168.4 103.6h.01M99.1 85.8h.01M124.5 92.4h.01M127.5 80.6h.01M100.9 79.5h.01M69.1 86.9h.01M76.6 75.3h.01M71.1 39.3h.01M192.5 97.3h.01M52.6 76.1h.01M155.1 70.6h.01M158.1 108.4h.01M117.0 87.4h.01M77.5 82.7h.01M99.5 83.6h.01M117.1 74.3h.01M99.7 71.6h.01M52.5 81.2h.01M69.1 74.8h.01M84.0 74.8h.01M67.2 78.6h.01M109.9 83.6h.01M97.6 90.2h.01M208.9 114.7h.01M81.7 74.9h.01M88.8 92.5h.01M195.5 97.1h.01M142.5 95.4h.01M64.8 85.7h.01M132.8 98.8h.01M67.6 79.7h.01M117.1 87.5h.01M87.9 75.4h.01M147.0 96.9h.01M126.6 100.7h.01M189.4 81.6h.01M80.0 61.9h.01M101.6 79.1h.01M130.8 75.3h.01M85.5 71.7h.01M76.1 78.2h.01M111.3 82.2h.01M138.6 52.4h.01M125.9 73.2h.01M70.2 57.9h.01M108.9 88.6h.01M103.0 72.3h.01M175.9 67.4h.01M72.2 67.3h.01M84.0 60.4h.01M200.3 85.2h.01M86.4 67.3h.01M68.3 49.7h.01M81.6 72.2h.01M80.0 68.0h.01M80.0 84.4h.01M190.5 64.1h.01M72.2 69.1h.01M56.3 69.3h.01M171.7 79.4h.01M106.8 89.4h.01M122.4 86.9h.01M107.4 93.8h.01M120.4 85.9h.01M130.8 94.9h.01M109.4 75.0h.01M55.4 72.7h.01M100.2 89.1h.01M66.8 76.9h.01M111.3 85.3h.01M99.6 87.7h.01M180.3 87.7h.01M68.4 63.0h.01M64.4 70.0h.01M65.2 89.7h.01M124.5 79.9h.01M63.9 90.7h.01M65.3 69.6h.01M132.2 89.0h.01M61.2 80.3h.01M54.4 82.9h.01M65.1 82.4h.01M101.4 50.8h.01M57.6 75.0h.01M97.4 82.6h.01M72.2 59.6h.01M142.5 86.5h.01M88.4 61.9h.01M212.4 121.8h.01M91.9 94.0h.01M98.9 80.7h.01M87.9 81.4h.01M76.1 72.1h.01M169.1 84.8h.01M152.4 112.6h.01M153.5 91.5h.01M66.1 72.9h.01M76.7 64.7h.01M60.8 69.1h.01M156.0 104.0h.01M212.8 116.6h.01M81.8 111.1h.01M93.5 64.3h.01M81.7 97.0h.01M112.7 89.8h.01M102.8 56.9h.01M110.7 89.5h.01M119.1 76.9h.01M102.9 84.2h.01M87.3 66.9h.01M170.7 99.2h.01M116.6 92.5h.01M70.7 53.7h.01M180.9 105.4h.01M94.0 98.2h.01M144.0 97.8h.01M94.2 71.0h.01M205.0 120.1h.01M206.5 92.5h.01M98.7 68.9h.01M91.8 47.3h.01M85.7 85.9h.01M121.5 77.0h.01M124.7 111.7h.01M48.8 76.3h.01M66.8 71.1h.01M179.1 95.3h.01M105.0 82.6h.01M49.1 71.5h.01M97.9 88.7h.01M70.9 79.8h.01M81.2 71.1h.01M65.5 64.3h.01M81.5 66.3h.01M64.4 57.8h.01M78.2 57.6h.01M68.4 99.0h.01M141.8 100.0h.01M83.1 78.4h.01M107.4 91.8h.01M74.0 58.8h.01M134.7 79.6h.01M104.9 83.3h.01M80.0 73.5h.01M154.2 77.5h.01M88.6 82.4h.01M106.5 86.7h.01M103.5 68.2h.01M104.2 74.7h.01M173.7 79.7h.01M105.3 76.5h.01M80.8 64.6h.01M60.9 79.5h.01M208.9 117.6h.01M172.0 100.0h.01M94.1 72.9h.01M62.2 57.8h.01M109.4 81.9h.01M68.3 76.1h.01M78.8 59.3h.01M169.8 100.0h.01M77.5 60.5h.01M59.9 39.8h.01M99.6 69.8h.01M52.0 56.9h.01M123.0 79.9h.01M65.6 68.8h.01M173.7 96.2h.01M56.6 70.1h.01M59.7 55.8h.01M79.2 98.4h.01M59.0 75.2h.01M90.0 68.2h.01M120.5 98.4h.01M86.5 78.3h.01M119.1 95.9h.01M103.2 74.9h.01M95.7 66.7h.01M65.8 51.4h.01M84.5 69.1h.01M146.4 104.1h.01M143.1 89.2h.01M124.2 79.1h.01M68.3 52.5h.01M71.1 68.0h.01M97.0 105.9h.01M203.9 93.5h.01M49.8 63.8h.01M95.7 72.0h.01M135.7 78.0h.01M83.0 70.4h.01M50.6 79.7h.01M142.1 87.5h.01M164.8 81.0h.01M191.3 104.6h.01M62.5 71.5h.01M53.7 88.2h.01M108.7 66.1h.01M87.9 84.4h.01M151.0 105.7h.01M74.6 80.6h.01M123.0 99.4h.01M135.1 94.2h.01M81.3 57.2h.01M212.0 92.5h.01M90.8 57.4h.01M219.3 82.4h.01M72.9 86.7h.01M60.5 64.6h.01M48.8 48.6h.01M156.2 63.2h.01M107.4 102.8h.01M81.0 96.0h.01M72.2 66.9h.01M77.9 79.6h.01M173.7 114.5h.01M124.0 81.8h.01M44.9 81.2h.01M56.8 103.8h.01M53.5 71.0h.01M110.7 81.6h.01M99.6 71.1h.01M144.4 79.6h.01M78.8 72.4h.01M81.7 79.1h.01M73.5 83.5h.01M130.8 113.1h.01M60.5 77.9h.01M74.7 59.8h.01M48.8 60.8h.01M135.2 61.1h.01M56.1 73.2h.01M76.4 100.3h.01M92.8 66.6h.01M80.0 60.4h.01M45.7 86.8h.01M120.4 109.5h.01M134.6 88.3h.01M99.6 70.1h.01M79.6 91.4h.01M92.0 83.2h.01M68.2 84.1h.01M64.4 89.3h.01M140.0 111.0h.01M215.6 101.9h.01M156.0 101.7h.01M96.4 89.1h.01M76.5 49.4h.01M126.9 101.9h.01M50.6 72.4h.01M142.5 109.2h.01M94.7 73.6h.01M175.2 122.4h.01M44.9 68.7h.01M114.8 87.4h.01M93.6 65.6h.01M87.7 93.1h.01M107.5 92.0h.01M84.0 79.8h.01M138.6 61.5h.01M60.5 93.0h.01M119.1 81.8h.01M162.5 107.4h.01M64.0 67.8h.01M94.0 69.5h.01M72.3 71.8h.01M123.9 83.7h.01M121.7 82.8h.01M111.7 92.3h.01M52.7 73.9h.01M142.5 116.7h.01M139.5 97.2h.01M68.3 84.2h.01M213.2 107.8h.01M91.8 67.8h.01M113.6 79.0h.01M52.7 64.0h.01M119.1 70.2h.01M61.0 106.3h.01M54.3 64.8h.01M102.4 81.6h.01M177.4 102.6h.01M73.0 92.9h.01M63.7 64.4h.01M164.9 82.1h.01M152.0 80.7h.01M95.7 80.7h.01M111.3 74.7h.01M64.6 59.2h.01M59.0 45.4h.01M56.6 53.7h.01M83.9 74.4h.01M138.2 90.4h.01M84.0 74.1h.01M99.6 77.3h.01M130.8 96.8h.01M47.5 59.3h.01M148.5 104.6h.01M112.4 95.7h.01M63.8 67.3h.01M87.4 85.6h.01M54.9 74.7h.01M125.2 117.9h.01M97.3 68.5h.01M87.9 77.6h.01M59.0 73.5h.01M116.1 78.6h.01M119.1 83.2h.01M127.9 98.9h.01M54.1 42.2h.01M83.5 82.9h.01M79.2 61.4h.01M142.5 66.6h.01M136.1 100.1h.01M118.4 84.6h.01M143.7 105.1h.01M99.1 65.3h.01M86.8 82.1h.01M95.7 95.4h.01M60.5 53.0h.01M111.3 70.7h.01M108.3 95.9h.01M162.0 81.0h.01M113.8 81.8h.01M60.0 32.8h.01M98.1 55.5h.01M99.6 88.6h.01M129.1 93.0h.01M99.6 93.2h.01M78.8 73.5h.01M103.5 81.0h.01M103.5 71.1h.01M64.3 71.3h.01M68.3 94.4h.01M101.1 92.7h.01M154.2 75.8h.01M104.4 65.3h.01M95.5 81.8h.01M119.0 88.2h.01M99.3 83.0h.01M54.4 70.8h.01M77.8 99.3h.01M165.1 85.9h.01M102.1 90.8h.01M64.4 70.5h.01M103.3 118.1h.01M91.6 75.1h.01M68.3 54.0h.01M127.4 120.9h.01M165.7 77.0h.01M129.1 82.4h.01M63.2 82.9h.01M103.6 104.6h.01M69.8 56.8h.01M82.0 72.4h.01M129.7 80.8h.01M53.8 75.0h.01M147.7 105.9h.01M200.2 91.5h.01M137.2 105.3h.01M84.8 63.8h.01M114.7 98.3h.01M52.1 91.8h.01M66.7 54.1h.01M111.7 109.3h.01M103.3 98.1h.01" stroke="#3535ff" stroke-opacity="0.7" stroke-width=".95" stroke-linecap="square" fill="none"/>
</g>
<g id="dotsR">
<path d="M583.3 80.6h.01M582.4 87.8h.01M509.0 45.4h.01M540.3 72.6h.01M551.5 66.0h.01M513.7 67.0h.01M524.9 79.7h.01M572.2 102.0h.01M540.3 78.2h.01M528.6 63.6h.01M509.0 47.0h.01M602.8 99.0h.01M574.9 96.4h.01M514.6 75.8h.01M587.2 72.7h.01M591.1 92.3h.01M560.8 90.9h.01M528.5 60.4h.01M538.3 95.5h.01M556.7 79.8h.01M505.7 66.6h.01M590.4 95.8h.01M558.8 100.2h.01M540.3 60.5h.01M560.7 57.0h.01M560.5 103.5h.01M575.5 86.7h.01M563.4 74.1h.01M526.0 36.1h.01M532.1 79.4h.01M559.6 97.4h.01M552.0 80.0h.01M645.8 73.7h.01M531.8 71.8h.01M540.3 71.6h.01M542.8 49.1h.01M513.5 100.7h.01M560.8 116.7h.01M522.9 56.1h.01M536.4 62.4h.01M525.3 92.3h.01M548.1 70.5h.01M559.8 82.1h.01M550.6 76.0h.01M567.7 98.1h.01M520.8 76.6h.01M536.4 88.0h.01M669.5 101.8h.01M536.4 78.0h.01M578.5 63.6h.01M608.1 89.4h.01M507.3 90.6h.01M561.2 76.8h.01M538.8 53.0h.01M559.8 78.4h.01M552.0 63.1h.01M579.4 90.5h.01M517.6 57.8h.01M512.9 82.0h.01M573.3 75.5h.01M559.8 104.1h.01M503.4 45.4h.01M544.9 110.0h.01M548.7 70.5h.01M508.9 69.2h.01M555.9 79.6h.01M571.6 80.5h.01M585.9 92.6h.01M520.5 83.2h.01M595.0 92.0h.01M602.8 92.2h.01M681.7 94.1h.01M548.1 47.7h.01M564.2 95.8h.01M503.8 64.5h.01M509.0 57.9h.01M547.8 85.3h.01M559.0 101.0h.01M548.1 87.2h.01M536.9 58.1h.01M583.8 95.7h.01M586.0 82.8h.01M539.8 86.9h.01M555.9 74.4h.01M575.2 98.9h.01M563.4 97.1h.01M512.0 65.5h.01M540.3 74.9h.01M536.4 51.6h.01M524.2 62.6h.01M546.0 52.7h.01M540.3 54.6h.01M537.3 80.6h.01M509.0 77.2h.01M667.6 110.6h.01M548.9 74.1h.01M576.1 85.8h.01M566.0 79.6h.01M536.7 65.2h.01M548.3 95.1h.01M622.4 119.8h.01M513.0 86.5h.01M549.5 99.8h.01M564.7 86.1h.01M538.0 70.1h.01M537.6 35.6h.01M579.4 81.7h.01M544.1 76.8h.01M581.8 68.8h.01M640.1 116.0h.01M585.8 86.9h.01M523.0 55.1h.01M547.2 66.0h.01M552.4 73.8h.01M552.8 85.6h.01M580.7 109.6h.01M575.5 90.9h.01M554.8 90.1h.01M515.3 57.4h.01M653.9 106.8h.01M538.3 66.3h.01M533.4 98.3h.01M503.5 50.4h.01M585.0 105.1h.01M606.4 122.8h.01M602.8 118.9h.01M503.3 75.2h.01M613.9 83.1h.01M540.3 64.7h.01M540.3 93.9h.01M528.6 70.5h.01M578.8 91.3h.01M606.5 122.9h.01M552.0 95.2h.01M539.3 106.9h.01M614.6 114.1h.01M547.9 119.4h.01M563.8 96.5h.01M536.4 88.9h.01M567.7 98.0h.01M574.6 100.9h.01M526.3 53.3h.01M513.6 73.1h.01M544.5 73.4h.01M512.9 55.8h.01M546.6 64.0h.01M609.2 88.8h.01M541.3 84.6h.01M501.1 82.0h.01M521.5 81.8h.01M561.7 90.8h.01M560.3 82.9h.01M525.8 72.3h.01M579.4 73.0h.01M526.5 72.8h.01M645.7 77.1h.01M598.9 80.5h.01M580.4 97.8h.01M563.6 70.9h.01M516.5 112.8h.01M555.9 60.0h.01M516.9 62.1h.01M606.7 92.6h.01M527.0 97.4h.01M548.6 39.7h.01M511.1 71.0h.01M536.4 76.6h.01M514.8 50.6h.01M517.4 71.6h.01M553.1 93.4h.01M509.0 56.4h.01M583.7 107.1h.01M548.1 67.0h.01M532.5 71.0h.01M536.4 57.0h.01M536.4 93.1h.01M544.2 57.8h.01M546.2 73.2h.01M535.7 43.7h.01M607.5 109.0h.01M563.8 55.5h.01M561.1 72.4h.01M505.1 53.6h.01M548.4 89.8h.01M611.1 91.2h.01M523.9 60.1h.01M618.3 114.3h.01M566.6 103.1h.01M565.8 96.9h.01M583.3 68.7h.01M533.8 71.1h.01M546.9 63.6h.01M612.5 95.7h.01M638.7 102.7h.01M619.0 98.2h.01M647.1 111.2h.01M622.4 83.5h.01M509.0 63.9h.01M577.1 85.6h.01M510.7 88.4h.01M520.3 64.7h.01M515.5 78.6h.01M524.7 78.4h.01M558.0 66.1h.01M520.8 86.4h.01M562.2 86.7h.01M612.1 90.4h.01M572.2 69.6h.01M505.1 73.8h.01M543.5 71.9h.01M588.0 88.5h.01M541.1 93.4h.01M572.6 120.5h.01M523.5 100.1h.01M541.4 66.8h.01M593.7 93.2h.01M517.8 89.4h.01M552.0 89.8h.01M545.8 83.8h.01M536.4 79.9h.01M570.7 87.3h.01M625.0 68.8h.01M544.2 89.1h.01M528.6 69.7h.01M542.4 88.3h.01M634.1 113.8h.01M523.5 83.9h.01M520.8 73.1h.01M532.3 81.6h.01M588.3 87.7h.01M552.0 76.6h.01M586.7 106.3h.01M517.6 39.1h.01M544.2 95.1h.01M519.7 63.8h.01M520.7 36.1h.01M568.5 97.0h.01M544.1 56.6h.01M620.2 80.0h.01M554.4 75.6h.01M542.7 105.1h.01M511.9 45.4h.01M509.0 65.2h.01M614.3 109.1h.01M532.5 53.4h.01M563.8 95.4h.01M556.4 65.1h.01M589.9 102.1h.01M669.3 94.4h.01M597.3 112.6h.01M546.2 83.9h.01M635.6 118.4h.01M578.1 100.5h.01M547.0 75.2h.01M559.8 85.4h.01M603.4 94.9h.01M633.6 84.3h.01M531.3 74.5h.01M541.2 104.7h.01M513.0 72.0h.01M600.4 95.7h.01M544.8 61.6h.01M655.1 88.7h.01M641.9 90.1h.01M562.5 87.3h.01M563.8 74.3h.01M528.6 94.1h.01M528.7 52.0h.01M555.5 74.4h.01M543.7 69.1h.01M665.5 109.2h.01M530.3 71.6h.01M585.2 102.3h.01M544.2 68.3h.01M559.1 103.0h.01M572.9 72.6h.01M518.1 60.5h.01M593.6 63.6h.01M628.5 104.0h.01M617.1 102.7h.01M546.8 75.0h.01M525.0 70.2h.01M601.1 98.8h.01M534.2 90.7h.01M564.3 101.5h.01M507.1 74.9h.01M511.2 71.6h.01M544.2 95.4h.01M544.9 95.2h.01M520.8 73.9h.01M507.8 54.9h.01M569.9 89.4h.01M508.8 56.1h.01M528.6 56.9h.01M591.3 82.2h.01M551.5 86.2h.01M569.2 92.5h.01M559.0 111.2h.01M560.6 93.6h.01M545.6 70.4h.01M521.1 86.4h.01M614.6 79.8h.01M561.5 61.3h.01M558.6 88.0h.01M520.4 55.2h.01M615.7 122.8h.01M563.1 100.1h.01M515.0 73.7h.01M532.3 72.9h.01M536.4 77.2h.01M512.0 80.6h.01M534.6 43.5h.01M596.4 91.2h.01M630.1 99.2h.01M567.8 75.2h.01M558.9 79.7h.01M547.2 81.7h.01M527.8 80.2h.01M538.3 100.3h.01M570.3 63.6h.01M512.9 81.7h.01M544.4 102.8h.01M559.8 95.2h.01M563.8 108.9h.01M511.4 36.4h.01M645.8 99.2h.01M580.6 68.6h.01M524.7 48.3h.01M536.5 65.7h.01M593.8 86.0h.01M605.6 109.5h.01M527.5 72.8h.01M520.8 78.9h.01M626.7 102.4h.01M577.7 100.1h.01M552.0 60.4h.01M535.2 62.2h.01M547.1 79.7h.01M520.8 95.3h.01M605.2 87.7h.01M563.1 70.4h.01M569.3 87.3h.01M572.0 106.7h.01M520.8 62.9h.01M532.0 56.7h.01M629.1 94.7h.01M564.0 112.3h.01M541.2 74.8h.01M602.8 70.7h.01M520.3 68.0h.01M524.7 63.3h.01M547.8 83.3h.01M575.4 88.6h.01M562.3 47.5h.01M567.7 65.1h.01M516.9 73.3h.01M538.6 81.0h.01M552.0 79.6h.01M540.3 41.9h.01M532.2 69.8h.01M583.3 74.2h.01M541.8 81.8h.01M524.3 90.2h.01M613.8 80.1h.01M559.0 83.6h.01M509.0 78.7h.01M574.2 98.7h.01M603.8 108.2h.01M622.4 111.7h.01M574.1 69.6h.01M529.4 66.2h.01M610.6 84.7h.01M517.4 73.9h.01M559.8 77.4h.01M584.9 89.3h.01M568.6 67.9h.01M539.4 62.9h.01M518.1 63.3h.01M591.1 104.0h.01M532.9 91.7h.01M520.8 81.8h.01M560.6 92.8h.01M559.8 91.0h.01M562.5 102.7h.01M640.8 79.1h.01M528.6 67.7h.01M575.9 119.6h.01M509.8 83.6h.01M543.9 97.5h.01M645.8 101.2h.01M515.4 51.7h.01M598.1 111.3h.01M539.2 65.8h.01M548.1 82.7h.01M532.5 55.5h.01M578.9 68.8h.01M583.7 86.7h.01M606.7 87.7h.01M540.1 75.7h.01M528.6 77.6h.01M623.4 120.4h.01M532.1 68.0h.01M583.2 92.3h.01M530.2 78.2h.01M581.6 91.9h.01M597.2 98.8h.01M529.0 87.9h.01M557.7 90.1h.01M566.4 67.7h.01M552.2 83.5h.01M598.9 75.1h.01M598.9 114.1h.01M567.2 106.2h.01M662.6 101.8h.01M524.7 58.8h.01M532.5 83.1h.01M503.1 55.8h.01M564.3 70.1h.01M543.1 60.3h.01M575.5 90.2h.01M528.6 72.6h.01M525.4 96.1h.01M555.9 81.0h.01M531.4 68.5h.01M570.2 65.0h.01M569.2 105.7h.01M551.3 92.6h.01M594.4 110.4h.01M559.8 69.0h.01M540.1 114.3h.01M524.1 87.0h.01M574.1 56.5h.01M527.8 61.6h.01M610.6 120.0h.01M572.2 88.2h.01M536.4 61.5h.01M520.8 61.1h.01M516.9 71.9h.01M639.7 116.7h.01M504.1 52.9h.01M527.5 71.6h.01M605.3 85.9h.01M665.4 97.3h.01M584.9 99.0h.01M562.1 61.6h.01M579.4 97.5h.01M515.4 61.6h.01M528.5 81.5h.01M520.8 73.1h.01M517.8 72.5h.01M524.8 80.8h.01M609.9 95.9h.01M505.1 45.8h.01M558.0 53.7h.01M589.5 71.5h.01M517.5 71.3h.01M544.2 54.9h.01M641.9 98.3h.01M629.3 76.1h.01M524.3 89.7h.01M681.4 79.1h.01M657.8 113.5h.01M612.3 82.5h.01M511.8 74.3h.01M528.6 58.0h.01M577.2 93.4h.01M552.2 108.6h.01M558.9 97.2h.01M579.7 93.7h.01M567.2 85.1h.01M662.2 122.1h.01M568.0 96.9h.01M541.2 79.2h.01M555.9 78.0h.01M516.9 81.0h.01M563.8 107.3h.01M629.6 98.9h.01M505.1 70.8h.01M506.7 52.6h.01M613.7 108.5h.01M531.3 62.9h.01M552.0 93.4h.01M579.0 85.7h.01M681.3 100.3h.01M611.9 93.2h.01M614.6 114.9h.01M594.1 96.8h.01M526.1 84.0h.01M578.9 92.2h.01M657.5 94.9h.01M505.1 65.2h.01M587.5 81.9h.01M517.5 66.9h.01M543.4 59.5h.01M570.7 79.7h.01M673.3 85.8h.01M555.2 75.6h.01M567.4 49.1h.01M640.0 83.7h.01M529.3 97.9h.01M513.3 63.0h.01M638.0 103.2h.01M503.4 98.9h.01M509.8 79.8h.01M516.9 75.4h.01M597.7 107.2h.01M600.5 94.9h.01M584.4 118.9h.01M619.6 90.4h.01M526.8 59.5h.01M546.0 72.3h.01M532.7 78.1h.01M557.3 81.7h.01M556.0 88.3h.01M517.3 51.2h.01M571.6 79.4h.01M587.6 62.5h.01M595.0 100.7h.01M548.1 56.4h.01M566.0 93.7h.01M543.0 79.2h.01M506.7 81.8h.01M629.2 95.5h.01M631.4 104.6h.01M524.7 61.2h.01M543.8 54.3h.01M567.0 86.2h.01M578.3 83.7h.01M561.8 69.7h.01M554.6 81.6h.01M567.7 93.9h.01M512.0 61.8h.01M567.2 77.8h.01M546.8 66.1h.01M673.1 89.0h.01M577.6 99.3h.01M540.3 68.9h.01M602.8 78.9h.01M524.7 77.6h.01M645.8 99.2h.01M544.2 86.3h.01M560.4 80.3h.01M524.7 44.3h.01M528.0 69.0h.01M682.1 116.2h.01M584.6 86.4h.01M544.2 73.7h.01M617.5 84.3h.01M547.9 99.0h.01M568.1 99.6h.01M573.8 89.0h.01M529.8 95.6h.01M555.9 64.0h.01M578.8 102.2h.01M513.6 89.9h.01M543.2 86.5h.01M524.7 58.4h.01M531.9 63.7h.01M559.3 68.4h.01M515.7 58.9h.01M507.1 96.8h.01M638.0 99.8h.01M510.0 94.6h.01M621.6 109.7h.01M567.7 91.5h.01M573.0 95.7h.01M519.7 61.7h.01M512.9 79.6h.01M622.4 76.0h.01M624.3 93.5h.01M575.8 70.7h.01M526.2 59.5h.01M516.1 54.7h.01M546.0 78.2h.01M575.7 58.8h.01M517.8 84.5h.01M618.5 94.4h.01M532.2 72.8h.01M544.2 80.3h.01M620.2 97.0h.01M538.7 86.4h.01M615.1 87.5h.01M566.7 73.3h.01M528.5 70.2h.01M531.9 61.6h.01M580.8 106.0h.01M596.5 122.9h.01M598.9 105.1h.01M633.7 107.5h.01M595.3 57.5h.01M586.8 95.8h.01M546.5 62.1h.01M554.6 67.9h.01M521.0 37.6h.01M536.4 72.5h.01M555.9 71.3h.01M541.3 78.8h.01M506.4 79.0h.01M516.9 83.6h.01M649.9 116.5h.01M515.9 46.5h.01M634.1 99.6h.01M572.9 89.8h.01M587.2 92.3h.01M589.4 101.8h.01M538.0 75.3h.01M528.6 72.3h.01M536.2 64.3h.01M595.0 81.3h.01M520.1 94.0h.01M558.6 78.7h.01M569.5 65.4h.01M582.4 106.3h.01M575.5 92.2h.01M514.6 65.2h.01M681.0 84.9h.01M533.0 64.1h.01M591.1 97.1h.01M552.0 72.2h.01M548.4 62.8h.01M534.4 67.7h.01M653.6 76.4h.01M541.5 69.6h.01M516.6 84.1h.01M515.2 79.8h.01M532.8 75.1h.01M618.5 104.5h.01M541.2 66.5h.01M559.8 77.2h.01M620.5 75.9h.01M600.6 84.5h.01M606.5 76.0h.01M589.5 104.8h.01M559.8 89.0h.01M567.2 75.0h.01M582.3 89.4h.01M567.8 76.0h.01M561.3 79.3h.01M536.4 83.6h.01M525.0 44.8h.01M546.5 60.4h.01M528.6 95.1h.01M512.3 76.5h.01M608.8 98.7h.01M521.8 59.3h.01M606.7 99.6h.01M587.1 113.0h.01M556.0 68.6h.01M661.5 106.9h.01M513.8 49.3h.01M558.9 77.6h.01M641.2 89.3h.01M572.2 74.4h.01M528.6 58.3h.01M515.9 75.7h.01M560.1 67.1h.01M512.8 64.1h.01M600.1 115.4h.01M587.8 98.5h.01M503.1 70.2h.01M536.0 66.9h.01M641.8 94.1h.01M594.9 111.7h.01M521.0 58.4h.01M516.4 69.1h.01M516.9 84.1h.01M526.4 58.3h.01M579.6 101.2h.01M566.8 103.0h.01M645.9 93.1h.01M579.4 76.0h.01M615.5 110.5h.01M547.2 61.9h.01M536.8 59.0h.01M528.6 79.3h.01M516.9 38.0h.01M524.2 71.0h.01M618.3 97.8h.01M538.8 110.8h.01M582.3 81.0h.01M587.4 101.7h.01M636.8 97.3h.01M531.4 98.1h.01M565.1 66.9h.01M539.1 53.0h.01M587.2 63.8h.01M524.7 61.4h.01M602.8 92.0h.01M541.4 121.2h.01M510.0 77.4h.01M523.9 71.3h.01M578.7 67.8h.01M563.8 96.3h.01M527.7 68.0h.01M540.3 76.1h.01M559.8 76.7h.01M598.9 101.9h.01M522.2 56.0h.01M519.4 54.0h.01M614.8 120.7h.01M544.2 59.6h.01M519.7 80.0h.01M625.7 106.5h.01M574.3 70.6h.01M530.7 70.5h.01M551.3 70.4h.01M557.8 69.5h.01M520.8 59.9h.01M524.8 78.2h.01M645.3 118.5h.01M571.1 76.0h.01M561.2 71.2h.01" stroke="#ff2a2a" stroke-opacity="0.7" stroke-width=".95" stroke-linecap="square" fill="none"/>
<path d="M571.6 65.7h.01M601.5 95.3h.01M512.9 53.5h.01M580.1 105.6h.01M524.7 45.9h.01M571.6 51.9h.01M552.0 93.7h.01M574.3 87.0h.01M567.7 86.9h.01M618.5 90.6h.01M556.2 101.3h.01M635.6 95.4h.01M537.5 65.9h.01M574.3 95.9h.01M568.1 119.2h.01M554.9 91.5h.01M548.1 85.4h.01M581.0 77.2h.01M560.0 92.0h.01M598.9 111.3h.01M550.7 70.8h.01M670.0 99.6h.01M539.8 66.2h.01M590.6 90.8h.01M530.7 59.3h.01M628.7 93.4h.01M558.4 109.1h.01M568.9 82.1h.01M583.3 77.7h.01M501.1 70.5h.01M578.7 65.9h.01M662.4 112.0h.01M499.8 60.4h.01M578.2 106.4h.01M540.8 77.5h.01M633.1 110.2h.01M517.9 88.0h.01M555.9 101.1h.01M524.2 70.6h.01M543.6 71.7h.01M515.3 82.1h.01M561.4 101.6h.01M540.3 90.6h.01M665.3 93.7h.01M566.6 102.6h.01M543.1 60.9h.01M523.5 99.0h.01M529.0 70.6h.01M547.3 69.0h.01M593.8 73.9h.01M554.0 87.3h.01M598.9 105.3h.01M509.5 93.2h.01M681.4 91.2h.01M562.3 85.1h.01M510.8 78.8h.01M515.5 78.8h.01M541.5 73.8h.01M615.2 97.5h.01M555.9 63.5h.01M527.2 106.9h.01M577.4 74.8h.01M580.8 96.5h.01M519.9 74.3h.01M560.7 87.4h.01M565.0 85.2h.01M544.6 66.9h.01M623.8 96.6h.01M542.1 99.5h.01M527.8 75.5h.01M532.5 77.0h.01M510.4 66.2h.01M509.0 71.0h.01M505.1 72.4h.01M524.7 58.4h.01M566.2 100.6h.01M626.3 67.6h.01M520.8 81.7h.01M526.9 89.9h.01M549.1 67.6h.01M575.5 70.6h.01M616.0 79.2h.01M564.1 61.5h.01M526.5 67.0h.01M602.0 93.5h.01M505.3 65.5h.01M608.8 96.3h.01M630.9 109.5h.01M544.7 54.0h.01M524.6 46.4h.01M528.1 74.3h.01M512.9 75.4h.01M587.2 97.6h.01M554.9 106.3h.01M503.4 81.2h.01M524.7 81.6h.01M559.8 82.5h.01M581.6 103.7h.01M595.0 121.2h.01M586.3 80.1h.01M583.5 63.1h.01M525.1 106.0h.01M595.0 94.5h.01M543.0 64.8h.01M515.4 89.8h.01M575.5 108.4h.01M537.3 75.9h.01M535.9 79.6h.01M552.0 89.7h.01M555.2 56.1h.01M602.8 72.0h.01M544.2 68.1h.01M535.2 76.9h.01M643.6 108.1h.01M575.5 73.3h.01M514.9 75.6h.01M536.6 53.6h.01M567.7 65.5h.01M591.1 100.3h.01M568.8 73.1h.01M559.8 58.3h.01M540.3 66.9h.01M585.5 103.7h.01M507.9 75.1h.01M545.7 83.2h.01M553.4 78.2h.01M516.9 71.6h.01M584.0 94.2h.01M567.7 71.1h.01M504.7 50.1h.01M634.1 109.8h.01M512.9 93.7h.01M519.0 66.6h.01M571.6 84.9h.01M507.8 64.3h.01M549.7 89.2h.01M525.2 68.8h.01M548.1 92.1h.01M530.4 57.7h.01M555.4 54.9h.01M512.3 85.1h.01M529.4 113.1h.01M615.2 104.4h.01M583.3 96.2h.01M539.1 73.0h.01M534.0 74.5h.01M523.7 65.2h.01M548.2 37.2h.01M577.6 94.8h.01M590.1 95.7h.01M606.7 88.2h.01M548.3 106.0h.01M563.8 70.5h.01M520.6 81.4h.01M563.8 104.0h.01M516.9 84.2h.01M613.6 88.8h.01M609.6 82.6h.01M543.5 58.0h.01M571.5 77.8h.01M549.3 89.1h.01M535.5 66.4h.01M535.6 76.0h.01M556.8 44.9h.01M535.4 105.8h.01M563.8 57.8h.01M621.5 86.4h.01M551.2 72.5h.01M532.5 75.4h.01M554.8 88.0h.01M537.0 89.6h.01M563.3 105.4h.01M545.7 46.3h.01M551.2 64.4h.01M540.3 65.6h.01M518.1 65.8h.01M574.3 114.0h.01M580.9 91.1h.01M529.5 71.4h.01M587.2 71.3h.01M534.2 89.4h.01M563.8 77.8h.01M512.9 74.0h.01M527.4 72.3h.01M538.0 86.8h.01M581.4 81.5h.01M555.9 78.4h.01M545.1 105.0h.01M548.1 59.2h.01M555.9 46.4h.01M501.2 82.4h.01M532.9 56.5h.01M539.9 90.2h.01M626.3 106.7h.01M550.7 51.5h.01M554.0 75.9h.01M581.8 64.1h.01M513.0 65.8h.01M595.6 75.7h.01M520.8 73.9h.01M554.6 57.4h.01M517.4 43.8h.01M583.3 77.0h.01M579.4 94.7h.01M551.0 83.5h.01M561.2 95.0h.01M575.1 75.7h.01M536.5 66.5h.01M643.0 111.9h.01M533.9 59.9h.01M552.0 86.9h.01M553.8 51.2h.01M602.8 80.3h.01M645.2 77.6h.01M607.5 104.7h.01M614.2 110.7h.01M501.2 96.4h.01M510.3 59.9h.01M575.8 101.8h.01M571.5 63.3h.01M531.4 70.9h.01M561.3 69.1h.01M512.9 89.2h.01M551.6 86.9h.01M534.3 70.9h.01M517.8 59.4h.01M510.4 89.0h.01M526.8 66.9h.01M573.3 96.5h.01M516.9 58.1h.01M590.2 92.4h.01M511.5 74.1h.01M555.9 72.4h.01M551.5 60.4h.01M512.0 73.3h.01M517.4 52.0h.01M575.2 99.6h.01M595.0 86.1h.01M621.3 114.0h.01M587.7 85.0h.01M524.7 85.4h.01M520.5 70.4h.01M618.5 87.1h.01M562.1 95.3h.01M606.4 119.9h.01M532.1 75.8h.01M563.8 73.4h.01M540.3 71.5h.01M501.2 82.4h.01M592.6 77.1h.01M529.4 77.0h.01M555.9 67.6h.01M558.8 93.2h.01M594.7 83.7h.01M544.7 58.4h.01M535.1 83.8h.01M517.8 75.0h.01M539.0 65.4h.01M540.6 67.3h.01M592.1 84.3h.01M533.3 75.3h.01M544.2 99.6h.01M558.1 79.8h.01M534.8 93.3h.01M567.7 81.2h.01M524.8 107.0h.01M565.6 60.4h.01M563.8 52.9h.01M553.0 71.8h.01M540.3 87.9h.01M556.5 83.9h.01M566.3 68.9h.01M539.5 65.1h.01M540.6 85.8h.01M601.3 74.3h.01M550.9 67.0h.01M609.6 86.5h.01M567.7 87.9h.01M535.8 74.2h.01M575.5 95.5h.01M525.8 69.3h.01M514.0 80.1h.01M512.9 52.5h.01M553.1 77.9h.01M522.0 68.3h.01M555.9 74.4h.01M533.8 69.0h.01M630.2 120.6h.01M532.5 54.3h.01M616.0 94.7h.01M521.0 79.5h.01M579.2 100.5h.01M544.2 86.4h.01M673.2 112.1h.01M531.0 73.0h.01M602.7 105.7h.01M551.5 76.5h.01M530.1 70.9h.01M538.1 85.1h.01M517.4 37.7h.01M559.8 82.2h.01M534.3 68.9h.01M520.8 69.7h.01M634.1 102.5h.01M520.6 61.3h.01M532.5 53.0h.01M549.6 78.8h.01M520.8 84.3h.01M515.8 62.5h.01M532.5 71.3h.01M519.3 74.1h.01M562.3 76.5h.01M524.1 94.7h.01M531.5 80.1h.01M536.8 90.1h.01M513.2 78.5h.01M536.2 65.9h.01M516.9 74.0h.01M574.0 93.8h.01M528.6 55.4h.01M514.5 70.6h.01M501.2 99.7h.01M629.2 115.2h.01M595.0 85.0h.01M574.7 78.7h.01M548.1 74.5h.01M572.8 80.9h.01M521.7 85.5h.01M574.2 86.7h.01M509.0 88.1h.01M528.6 86.0h.01M639.9 115.4h.01M513.4 83.5h.01M513.3 76.1h.01M550.7 82.2h.01M568.3 95.7h.01M610.7 79.8h.01M613.5 103.4h.01M665.4 81.2h.01M673.2 89.1h.01M504.0 88.3h.01M559.8 68.4h.01M544.1 98.2h.01M517.5 50.4h.01M604.2 89.6h.01M556.4 95.5h.01M561.1 88.1h.01M551.9 99.8h.01M508.0 54.7h.01M600.6 112.2h.01M545.7 81.6h.01M570.2 77.6h.01M524.7 73.4h.01M610.4 92.5h.01M604.9 98.7h.01M516.9 61.6h.01M525.1 87.6h.01M545.0 69.7h.01M518.7 90.6h.01M512.9 69.2h.01M563.8 100.2h.01M530.1 77.8h.01M525.3 65.1h.01M539.5 58.5h.01M524.3 100.5h.01M535.9 87.5h.01M591.5 106.0h.01M589.8 72.9h.01M553.0 93.3h.01M544.2 67.6h.01M555.3 88.7h.01M559.4 103.6h.01M569.7 83.5h.01M561.8 99.8h.01M535.9 65.3h.01M545.6 66.2h.01M538.3 56.9h.01M599.2 108.8h.01M558.9 58.7h.01M587.3 75.9h.01M525.2 100.7h.01M555.9 48.3h.01M560.9 57.6h.01M512.9 87.5h.01M548.1 74.3h.01M585.4 109.8h.01M623.0 101.8h.01M539.7 74.3h.01M534.3 66.7h.01M513.2 84.4h.01M504.1 71.6h.01M503.3 85.0h.01M564.6 78.0h.01M536.6 66.5h.01M536.4 75.3h.01M567.3 67.4h.01M590.8 80.2h.01M622.4 94.1h.01M602.7 77.5h.01M554.3 99.4h.01M501.2 71.5h.01M548.3 105.7h.01M522.6 73.8h.01M524.7 81.0h.01M551.7 67.8h.01M559.8 89.0h.01M622.4 109.2h.01M547.7 80.5h.01M548.5 81.3h.01M540.8 69.7h.01M518.1 85.9h.01M598.9 117.5h.01M575.5 69.8h.01M555.9 100.1h.01M635.7 109.2h.01M567.1 101.0h.01M550.9 66.8h.01M574.7 95.1h.01M532.5 57.2h.01M673.2 115.4h.01M573.7 82.0h.01M544.2 66.9h.01M534.7 61.5h.01M536.6 94.2h.01M555.9 86.8h.01M532.8 76.7h.01M555.9 108.6h.01M530.6 64.4h.01M587.8 84.7h.01M559.8 74.7h.01M552.0 101.0h.01M600.6 91.4h.01M551.3 73.5h.01M539.8 61.7h.01M554.6 88.7h.01M532.6 65.3h.01M606.0 66.3h.01M521.0 79.7h.01M506.8 77.5h.01M543.1 82.7h.01M591.1 113.7h.01M534.4 81.2h.01M588.4 66.4h.01M671.1 118.7h.01M528.6 77.5h.01M537.3 58.6h.01M677.1 96.3h.01M516.0 69.0h.01M509.8 76.6h.01M552.0 81.8h.01M624.0 99.7h.01M543.5 67.7h.01M541.9 76.4h.01M553.6 66.5h.01M583.3 116.9h.01M520.8 60.9h.01M547.1 86.7h.01M532.3 75.1h.01M544.2 84.4h.01M537.7 66.9h.01M510.8 73.4h.01M563.5 73.9h.01M505.1 83.1h.01M522.4 70.5h.01M546.0 60.2h.01M586.3 73.3h.01M535.9 81.4h.01M574.8 84.4h.01M606.7 101.2h.01M543.5 79.6h.01M574.9 86.3h.01M641.9 85.0h.01M568.2 75.9h.01M559.8 60.5h.01M536.4 53.3h.01M590.1 109.9h.01M563.8 78.7h.01M536.4 82.8h.01M537.3 100.4h.01M611.9 113.0h.01M564.8 91.1h.01M595.5 67.6h.01M565.2 82.4h.01M520.5 75.8h.01M563.8 83.7h.01M571.6 96.7h.01M517.0 69.9h.01M535.5 77.3h.01M512.9 96.1h.01M550.4 87.5h.01M513.9 62.6h.01M588.1 91.8h.01M551.4 69.9h.01M559.4 96.5h.01M524.0 72.2h.01M553.9 67.5h.01M599.1 117.4h.01M580.9 99.2h.01M622.3 105.3h.01M512.9 76.0h.01M616.3 105.6h.01M536.4 72.1h.01M550.6 64.5h.01M510.5 66.4h.01M607.7 80.6h.01M548.3 63.5h.01M632.7 110.3h.01M517.2 68.4h.01M587.2 95.6h.01M535.2 66.1h.01M540.4 82.2h.01M563.8 86.0h.01M521.4 48.0h.01M540.6 79.7h.01M597.8 116.2h.01M544.9 76.3h.01M554.2 76.2h.01M512.9 79.3h.01M558.1 80.6h.01M511.5 56.5h.01M515.1 79.7h.01M629.5 103.6h.01M540.0 87.4h.01M532.5 70.3h.01M528.6 76.2h.01M501.2 84.3h.01M526.4 76.2h.01M622.4 72.3h.01M514.2 97.1h.01M520.8 93.3h.01M560.7 77.3h.01M526.5 94.4h.01M643.5 74.3h.01M542.4 99.4h.01M544.8 97.3h.01M536.9 83.7h.01M521.0 57.0h.01M571.6 73.6h.01M579.4 79.3h.01M606.6 91.1h.01M511.5 52.4h.01M579.4 114.5h.01M524.6 69.5h.01M570.2 63.9h.01M625.9 115.8h.01M520.8 68.2h.01M531.4 56.9h.01M543.4 59.2h.01M595.0 94.2h.01M598.3 65.7h.01M525.0 66.2h.01M583.4 73.1h.01M614.9 113.3h.01M591.1 102.2h.01M574.1 97.3h.01M542.7 51.4h.01M540.6 111.3h.01M565.7 110.7h.01M593.3 80.0h.01M619.7 96.5h.01M551.9 123.4h.01M503.7 76.6h.01M609.8 100.8h.01M515.9 54.3h.01M571.8 113.6h.01M544.2 85.6h.01M552.7 64.4h.01M524.7 62.3h.01M528.8 87.9h.01M567.7 88.4h.01M559.6 103.6h.01M525.0 53.5h.01M509.0 77.5h.01M587.2 71.2h.01M613.4 85.4h.01M515.1 85.0h.01M575.6 88.7h.01M581.5 78.7h.01M528.4 67.7h.01M572.2 63.1h.01M508.4 54.7h.01M644.3 98.3h.01M575.2 76.2h.01M536.4 86.3h.01M585.0 98.0h.01M526.7 65.0h.01M537.4 71.1h.01M516.6 88.3h.01M569.1 85.7h.01M614.6 109.0h.01M543.6 85.7h.01M521.1 53.8h.01M594.6 105.8h.01M536.4 85.4h.01M587.7 81.7h.01M553.6 79.0h.01M558.0 78.9h.01M576.3 107.7h.01M624.2 99.9h.01M583.3 94.1h.01M606.2 107.0h.01M600.6 101.8h.01M561.0 86.4h.01M543.3 65.1h.01M520.5 45.1h.01M567.3 82.3h.01M520.8 50.9h.01M530.5 72.8h.01M594.9 113.6h.01M622.4 98.2h.01M591.2 72.1h.01M527.2 53.3h.01M535.1 88.3h.01M583.3 55.9h.01M599.2 103.9h.01M620.7 109.3h.01M548.1 86.2h.01M519.4 51.2h.01M638.3 96.1h.01M585.6 75.9h.01M532.5 107.2h.01M549.8 79.7h.01M581.7 89.7h.01M512.9 61.2h.01M678.9 111.0h.01M511.4 53.7h.01M602.8 104.1h.01M606.3 115.3h.01M516.3 95.8h.01M553.7 61.4h.01M575.5 75.1h.01M544.6 88.9h.01M582.6 72.1h.01M602.5 96.4h.01M565.1 84.9h.01M518.2 93.4h.01M575.7 94.2h.01M507.1 69.0h.01M537.0 72.7h.01M528.5 82.0h.01M538.4 61.5h.01M524.7 52.1h.01M555.9 92.3h.01M554.8 74.3h.01M591.6 113.1h.01M532.3 68.6h.01M568.5 98.1h.01M548.1 80.6h.01M612.8 94.0h.01M552.7 83.1h.01M546.7 62.7h.01M599.4 104.3h.01M549.9 85.6h.01M563.3 77.7h.01M559.8 82.0h.01M523.3 69.1h.01M545.0 80.6h.01M535.4 87.0h.01M650.9 93.7h.01M594.5 90.4h.01M540.3 63.2h.01M547.3 58.7h.01M559.8 86.6h.01M524.4 83.7h.01M571.6 91.4h.01M537.7 85.2h.01M595.0 120.6h.01M500.1 46.0h.01M578.7 80.9h.01M575.1 51.9h.01M557.7 89.0h.01M541.7 68.0h.01M645.3 98.7h.01M606.7 95.9h.01M567.7 69.4h.01M517.9 71.8h.01" stroke="#3535ff" stroke-opacity="0.7" stroke-width=".95" stroke-linecap="square" fill="none"/>
</g>
<g>
<polygon points="37.1,60.8 41.0,61.9 44.9,63.1 48.8,64.2 52.7,65.3 56.6,66.5 60.5,67.6 64.4,68.7 68.3,69.8 72.2,70.9 76.1,72.0 80.0,73.0 84.0,74.1 87.9,75.2 91.8,76.2 95.7,77.3 99.6,78.3 103.5,79.4 107.4,80.4 111.3,81.4 115.2,82.4 119.1,83.4 123.0,84.4 126.9,85.4 130.8,86.4 134.7,87.4 138.6,88.4 142.5,89.4 146.4,90.3 150.3,91.3 154.2,92.3 158.1,93.2 162.0,94.2 165.9,95.1 169.8,96.1 173.7,97.0 177.7,97.9 181.6,98.9 185.5,99.8 189.4,100.7 193.3,101.6 197.2,102.5 201.1,103.4 205.0,104.3 208.9,105.2 212.8,106.1 216.7,107.0 220.6,107.9 224.5,108.8 224.5,117.7 220.6,116.5 216.7,115.4 212.8,114.3 208.9,113.1 205.0,112.0 201.1,110.9 197.2,109.8 193.3,108.7 189.4,107.6 185.5,106.5 181.6,105.4 177.7,104.3 173.7,103.2 169.8,102.1 165.9,101.0 162.0,99.9 158.1,98.9 154.2,97.8 150.3,96.8 146.4,95.7 142.5,94.7 138.6,93.6 134.7,92.6 130.8,91.6 126.9,90.5 123.0,89.5 119.1,88.5 115.2,87.5 111.3,86.5 107.4,85.5 103.5,84.5 99.6,83.5 95.7,82.5 91.8,81.5 87.9,80.6 84.0,79.6 80.0,78.7 76.1,77.7 72.2,76.8 68.3,75.9 64.4,75.0 60.5,74.0 56.6,73.1 52.7,72.2 48.8,71.4 44.9,70.5 41.0,69.6 37.1,68.7" fill="#ffffff" fill-opacity=".55" stroke="none"/>
<polygon points="37.1,60.8 41.0,61.9 44.9,63.1 48.8,64.2 52.7,65.3 56.6,66.5 60.5,67.6 64.4,68.7 68.3,69.8 72.2,70.9 76.1,72.0 80.0,73.0 84.0,74.1 87.9,75.2 91.8,76.2 95.7,77.3 99.6,78.3 103.5,79.4 107.4,80.4 111.3,81.4 115.2,82.4 119.1,83.4 123.0,84.4 126.9,85.4 130.8,86.4 134.7,87.4 138.6,88.4 142.5,89.4 146.4,90.3 150.3,91.3 154.2,92.3 158.1,93.2 162.0,94.2 165.9,95.1 169.8,96.1 173.7,97.0 177.7,97.9 181.6,98.9 185.5,99.8 189.4,100.7 193.3,101.6 197.2,102.5 201.1,103.4 205.0,104.3 208.9,105.2 212.8,106.1 216.7,107.0 220.6,107.9 224.5,108.8 224.5,117.7 220.6,116.5 216.7,115.4 212.8,114.3 208.9,113.1 205.0,112.0 201.1,110.9 197.2,109.8 193.3,108.7 189.4,107.6 185.5,106.5 181.6,105.4 177.7,104.3 173.7,103.2 169.8,102.1 165.9,101.0 162.0,99.9 158.1,98.9 154.2,97.8 150.3,96.8 146.4,95.7 142.5,94.7 138.6,93.6 134.7,92.6 130.8,91.6 126.9,90.5 123.0,89.5 119.1,88.5 115.2,87.5 111.3,86.5 107.4,85.5 103.5,84.5 99.6,83.5 95.7,82.5 91.8,81.5 87.9,80.6 84.0,79.6 80.0,78.7 76.1,77.7 72.2,76.8 68.3,75.9 64.4,75.0 60.5,74.0 56.6,73.1 52.7,72.2 48.8,71.4 44.9,70.5 41.0,69.6 37.1,68.7" fill="#ff0000" fill-opacity=".06" stroke="#ff0000" stroke-width=".5" stroke-opacity=".75"/>
<polygon points="37.1,64.3 41.0,65.3 44.9,66.3 48.8,67.3 52.7,68.2 56.6,69.2 60.5,70.2 64.4,71.1 68.3,72.1 72.2,73.0 76.1,74.0 80.0,74.9 84.0,75.8 87.9,76.7 91.8,77.6 95.7,78.5 99.6,79.4 103.5,80.3 107.4,81.2 111.3,82.0 115.2,82.9 119.1,83.8 123.0,84.6 126.9,85.5 130.8,86.3 134.7,87.1 138.6,88.0 142.5,88.8 146.4,89.6 150.3,90.4 154.2,91.2 158.1,92.0 162.0,92.8 165.9,93.6 169.8,94.4 173.7,95.2 177.7,95.9 181.6,96.7 185.5,97.5 189.4,98.2 193.3,99.0 197.2,99.7 201.1,100.5 205.0,101.2 208.9,101.9 212.8,102.6 216.7,103.4 220.6,104.1 224.5,104.8 224.5,114.2 220.6,113.2 216.7,112.2 212.8,111.2 208.9,110.2 205.0,109.2 201.1,108.2 197.2,107.2 193.3,106.2 189.4,105.3 185.5,104.3 181.6,103.4 177.7,102.4 173.7,101.5 169.8,100.5 165.9,99.6 162.0,98.7 158.1,97.7 154.2,96.8 150.3,95.9 146.4,95.0 142.5,94.1 138.6,93.2 134.7,92.3 130.8,91.4 126.9,90.6 123.0,89.7 119.1,88.8 115.2,88.0 111.3,87.1 107.4,86.3 103.5,85.4 99.6,84.6 95.7,83.8 91.8,82.9 87.9,82.1 84.0,81.3 80.0,80.5 76.1,79.7 72.2,79.0 68.3,78.2 64.4,77.4 60.5,76.6 56.6,75.9 52.7,75.1 48.8,74.4 44.9,73.7 41.0,73.0 37.1,72.2" fill="#ffffff" fill-opacity=".55" stroke="none"/>
<polygon points="37.1,64.3 41.0,65.3 44.9,66.3 48.8,67.3 52.7,68.2 56.6,69.2 60.5,70.2 64.4,71.1 68.3,72.1 72.2,73.0 76.1,74.0 80.0,74.9 84.0,75.8 87.9,76.7 91.8,77.6 95.7,78.5 99.6,79.4 103.5,80.3 107.4,81.2 111.3,82.0 115.2,82.9 119.1,83.8 123.0,84.6 126.9,85.5 130.8,86.3 134.7,87.1 138.6,88.0 142.5,88.8 146.4,89.6 150.3,90.4 154.2,91.2 158.1,92.0 162.0,92.8 165.9,93.6 169.8,94.4 173.7,95.2 177.7,95.9 181.6,96.7 185.5,97.5 189.4,98.2 193.3,99.0 197.2,99.7 201.1,100.5 205.0,101.2 208.9,101.9 212.8,102.6 216.7,103.4 220.6,104.1 224.5,104.8 224.5,114.2 220.6,113.2 216.7,112.2 212.8,111.2 208.9,110.2 205.0,109.2 201.1,108.2 197.2,107.2 193.3,106.2 189.4,105.3 185.5,104.3 181.6,103.4 177.7,102.4 173.7,101.5 169.8,100.5 165.9,99.6 162.0,98.7 158.1,97.7 154.2,96.8 150.3,95.9 146.4,95.0 142.5,94.1 138.6,93.2 134.7,92.3 130.8,91.4 126.9,90.6 123.0,89.7 119.1,88.8 115.2,88.0 111.3,87.1 107.4,86.3 103.5,85.4 99.6,84.6 95.7,83.8 91.8,82.9 87.9,82.1 84.0,81.3 80.0,80.5 76.1,79.7 72.2,79.0 68.3,78.2 64.4,77.4 60.5,76.6 56.6,75.9 52.7,75.1 48.8,74.4 44.9,73.7 41.0,73.0 37.1,72.2" fill="#0000ff" fill-opacity=".06" stroke="#0000ff" stroke-width=".5" stroke-opacity=".75"/>
<polyline points="37.1,64.8 41.0,65.8 44.9,66.8 48.8,67.8 52.7,68.8 56.6,69.8 60.5,70.8 64.4,71.8 68.3,72.8 72.2,73.8 76.1,74.9 80.0,75.9 84.0,76.9 87.9,77.9 91.8,78.9 95.7,79.9 99.6,80.9 103.5,81.9 107.4,82.9 111.3,83.9 115.2,84.9 119.1,86.0 123.0,87.0 126.9,88.0 130.8,89.0 134.7,90.0 138.6,91.0 142.5,92.0 146.4,93.0 150.3,94.0 154.2,95.0 158.1,96.1 162.0,97.1 165.9,98.1 169.8,99.1 173.7,100.1 177.7,101.1 181.6,102.1 185.5,103.1 189.4,104.1 193.3,105.1 197.2,106.2 201.1,107.2 205.0,108.2 208.9,109.2 212.8,110.2 216.7,111.2 220.6,112.2 224.5,113.2" fill="none" stroke="#ff0000" stroke-width="3.3"/>
<polyline points="37.1,68.3 41.0,69.1 44.9,70.0 48.8,70.8 52.7,71.7 56.6,72.6 60.5,73.4 64.4,74.3 68.3,75.1 72.2,76.0 76.1,76.8 80.0,77.7 84.0,78.6 87.9,79.4 91.8,80.3 95.7,81.1 99.6,82.0 103.5,82.9 107.4,83.7 111.3,84.6 115.2,85.4 119.1,86.3 123.0,87.1 126.9,88.0 130.8,88.9 134.7,89.7 138.6,90.6 142.5,91.4 146.4,92.3 150.3,93.2 154.2,94.0 158.1,94.9 162.0,95.7 165.9,96.6 169.8,97.5 173.7,98.3 177.7,99.2 181.6,100.0 185.5,100.9 189.4,101.7 193.3,102.6 197.2,103.5 201.1,104.3 205.0,105.2 208.9,106.0 212.8,106.9 216.7,107.8 220.6,108.6 224.5,109.5" fill="none" stroke="#0000ff" stroke-width="3.3"/>
<path d="M37.1 32.0V129.3H225.2" fill="none" stroke="#231f20" stroke-width="1.5"/>
<path d="M37.1 32.6h2.7M37.1 56.8h2.7M37.1 81.0h2.7M37.1 105.1h2.7M68.3 129.3v-2.6M107.4 129.3v-2.6M146.4 129.3v-2.6M185.5 129.3v-2.6M224.5 129.3v-2.6" fill="none" stroke="#231f20" stroke-width="1.3"/>
<text x="32.9" y="37.4" font-size="12.8" text-anchor="end" textLength="15.9" lengthAdjust="spacingAndGlyphs">3.2</text>
<text x="32.9" y="61.6" font-size="12.8" text-anchor="end" textLength="5.8" lengthAdjust="spacingAndGlyphs">3</text>
<text x="32.9" y="85.8" font-size="12.8" text-anchor="end" textLength="15.9" lengthAdjust="spacingAndGlyphs">2.8</text>
<text x="32.9" y="109.9" font-size="12.8" text-anchor="end" textLength="15.9" lengthAdjust="spacingAndGlyphs">2.6</text>
<text x="32.9" y="134.1" font-size="12.8" text-anchor="end" textLength="15.9" lengthAdjust="spacingAndGlyphs">2.4</text>
<text x="68.6" y="144.3" font-size="11.4" text-anchor="middle">10</text>
<text x="107.7" y="144.3" font-size="11.4" text-anchor="middle">15</text>
<text x="146.7" y="144.3" font-size="11.4" text-anchor="middle">20</text>
<text x="185.8" y="144.3" font-size="11.4" text-anchor="middle">25</text>
<text x="224.8" y="144.3" font-size="11.4" text-anchor="middle">30</text>
<text x="131.0" y="159.5" font-size="12" text-anchor="middle" textLength="22" lengthAdjust="spacingAndGlyphs">Age</text>
<text transform="translate(10.9 83.5) rotate(-90)" font-size="12.6" text-anchor="middle" textLength="101" lengthAdjust="spacingAndGlyphs">Cortical Thickness</text>
</g>
<g>
<use href="#dotsL" transform="translate(0 164.6)"/>
<polygon points="37.1,217.3 41.0,219.4 44.9,221.4 48.8,223.4 52.7,225.3 56.6,227.2 60.5,229.0 64.4,230.8 68.3,232.5 72.2,234.2 76.1,235.8 80.0,237.4 84.0,238.9 87.9,240.4 91.8,241.8 95.7,243.2 99.6,244.6 103.5,245.8 107.4,247.1 111.3,248.3 115.2,249.4 119.1,250.5 123.0,251.6 126.9,252.6 130.8,253.6 134.7,254.5 138.6,255.4 142.5,256.3 146.4,257.1 150.3,257.9 154.2,258.7 158.1,259.4 162.0,260.0 165.9,260.7 169.8,261.3 173.7,261.8 177.7,262.3 181.6,262.8 185.5,263.2 189.4,263.6 193.3,264.0 197.2,264.3 201.1,264.6 205.0,264.8 208.9,265.0 212.8,265.2 216.7,265.3 220.6,265.4 224.5,265.5 224.5,276.3 220.6,275.9 216.7,275.4 212.8,275.0 208.9,274.5 205.0,274.0 201.1,273.4 197.2,272.8 193.3,272.2 189.4,271.6 185.5,271.0 181.6,270.3 177.7,269.6 173.7,268.9 169.8,268.1 165.9,267.3 162.0,266.5 158.1,265.7 154.2,264.9 150.3,264.0 146.4,263.1 142.5,262.2 138.6,261.2 134.7,260.2 130.8,259.2 126.9,258.2 123.0,257.1 119.1,256.1 115.2,255.0 111.3,253.8 107.4,252.7 103.5,251.5 99.6,250.3 95.7,249.2 91.8,247.9 87.9,246.7 84.0,245.5 80.0,244.2 76.1,243.0 72.2,241.7 68.3,240.4 64.4,239.1 60.5,237.7 56.6,236.4 52.7,235.0 48.8,233.6 44.9,232.2 41.0,230.8 37.1,229.4" fill="#ffffff" fill-opacity=".55" stroke="none"/>
<polygon points="37.1,217.3 41.0,219.4 44.9,221.4 48.8,223.4 52.7,225.3 56.6,227.2 60.5,229.0 64.4,230.8 68.3,232.5 72.2,234.2 76.1,235.8 80.0,237.4 84.0,238.9 87.9,240.4 91.8,241.8 95.7,243.2 99.6,244.6 103.5,245.8 107.4,247.1 111.3,248.3 115.2,249.4 119.1,250.5 123.0,251.6 126.9,252.6 130.8,253.6 134.7,254.5 138.6,255.4 142.5,256.3 146.4,257.1 150.3,257.9 154.2,258.7 158.1,259.4 162.0,260.0 165.9,260.7 169.8,261.3 173.7,261.8 177.7,262.3 181.6,262.8 185.5,263.2 189.4,263.6 193.3,264.0 197.2,264.3 201.1,264.6 205.0,264.8 208.9,265.0 212.8,265.2 216.7,265.3 220.6,265.4 224.5,265.5 224.5,276.3 220.6,275.9 216.7,275.4 212.8,275.0 208.9,274.5 205.0,274.0 201.1,273.4 197.2,272.8 193.3,272.2 189.4,271.6 185.5,271.0 181.6,270.3 177.7,269.6 173.7,268.9 169.8,268.1 165.9,267.3 162.0,266.5 158.1,265.7 154.2,264.9 150.3,264.0 146.4,263.1 142.5,262.2 138.6,261.2 134.7,260.2 130.8,259.2 126.9,258.2 123.0,257.1 119.1,256.1 115.2,255.0 111.3,253.8 107.4,252.7 103.5,251.5 99.6,250.3 95.7,249.2 91.8,247.9 87.9,246.7 84.0,245.5 80.0,244.2 76.1,243.0 72.2,241.7 68.3,240.4 64.4,239.1 60.5,237.7 56.6,236.4 52.7,235.0 48.8,233.6 44.9,232.2 41.0,230.8 37.1,229.4" fill="#ff0000" fill-opacity=".06" stroke="#ff0000" stroke-width=".5" stroke-opacity=".75"/>
<polygon points="37.1,227.6 41.0,228.9 44.9,230.1 48.8,231.3 52.7,232.5 56.6,233.6 60.5,234.8 64.4,235.9 68.3,237.0 72.2,238.1 76.1,239.2 80.0,240.2 84.0,241.2 87.9,242.2 91.8,243.2 95.7,244.2 99.6,245.1 103.5,246.0 107.4,246.9 111.3,247.8 115.2,248.7 119.1,249.5 123.0,250.3 126.9,251.1 130.8,251.9 134.7,252.7 138.6,253.5 142.5,254.2 146.4,254.9 150.3,255.6 154.2,256.3 158.1,257.0 162.0,257.6 165.9,258.3 169.8,258.9 173.7,259.5 177.7,260.1 181.6,260.6 185.5,261.2 189.4,261.7 193.3,262.2 197.2,262.7 201.1,263.2 205.0,263.7 208.9,264.1 212.8,264.5 216.7,265.0 220.6,265.4 224.5,265.7 224.5,281.4 220.6,280.3 216.7,279.2 212.8,278.2 208.9,277.1 205.0,276.0 201.1,275.0 197.2,274.0 193.3,272.9 189.4,271.9 185.5,270.9 181.6,269.9 177.7,268.9 173.7,267.9 169.8,266.9 165.9,266.0 162.0,265.0 158.1,264.1 154.2,263.1 150.3,262.2 146.4,261.3 142.5,260.4 138.6,259.5 134.7,258.6 130.8,257.7 126.9,256.8 123.0,255.9 119.1,255.1 115.2,254.2 111.3,253.4 107.4,252.5 103.5,251.7 99.6,250.9 95.7,250.1 91.8,249.3 87.9,248.6 84.0,247.8 80.0,247.1 76.1,246.3 72.2,245.6 68.3,244.9 64.4,244.2 60.5,243.5 56.6,242.8 52.7,242.2 48.8,241.5 44.9,240.9 41.0,240.3 37.1,239.7" fill="#ffffff" fill-opacity=".55" stroke="none"/>
<polygon points="37.1,227.6 41.0,228.9 44.9,230.1 48.8,231.3 52.7,232.5 56.6,233.6 60.5,234.8 64.4,235.9 68.3,237.0 72.2,238.1 76.1,239.2 80.0,240.2 84.0,241.2 87.9,242.2 91.8,243.2 95.7,244.2 99.6,245.1 103.5,246.0 107.4,246.9 111.3,247.8 115.2,248.7 119.1,249.5 123.0,250.3 126.9,251.1 130.8,251.9 134.7,252.7 138.6,253.5 142.5,254.2 146.4,254.9 150.3,255.6 154.2,256.3 158.1,257.0 162.0,257.6 165.9,258.3 169.8,258.9 173.7,259.5 177.7,260.1 181.6,260.6 185.5,261.2 189.4,261.7 193.3,262.2 197.2,262.7 201.1,263.2 205.0,263.7 208.9,264.1 212.8,264.5 216.7,265.0 220.6,265.4 224.5,265.7 224.5,281.4 220.6,280.3 216.7,279.2 212.8,278.2 208.9,277.1 205.0,276.0 201.1,275.0 197.2,274.0 193.3,272.9 189.4,271.9 185.5,270.9 181.6,269.9 177.7,268.9 173.7,267.9 169.8,266.9 165.9,266.0 162.0,265.0 158.1,264.1 154.2,263.1 150.3,262.2 146.4,261.3 142.5,260.4 138.6,259.5 134.7,258.6 130.8,257.7 126.9,256.8 123.0,255.9 119.1,255.1 115.2,254.2 111.3,253.4 107.4,252.5 103.5,251.7 99.6,250.9 95.7,250.1 91.8,249.3 87.9,248.6 84.0,247.8 80.0,247.1 76.1,246.3 72.2,245.6 68.3,244.9 64.4,244.2 60.5,243.5 56.6,242.8 52.7,242.2 48.8,241.5 44.9,240.9 41.0,240.3 37.1,239.7" fill="#0000ff" fill-opacity=".06" stroke="#0000ff" stroke-width=".5" stroke-opacity=".75"/>
<polyline points="37.1,223.4 41.0,225.1 44.9,226.8 48.8,228.5 52.7,230.2 56.6,231.8 60.5,233.4 64.4,234.9 68.3,236.4 72.2,237.9 76.1,239.4 80.0,240.8 84.0,242.2 87.9,243.6 91.8,244.9 95.7,246.2 99.6,247.5 103.5,248.7 107.4,249.9 111.3,251.0 115.2,252.2 119.1,253.3 123.0,254.4 126.9,255.4 130.8,256.4 134.7,257.4 138.6,258.3 142.5,259.2 146.4,260.1 150.3,261.0 154.2,261.8 158.1,262.5 162.0,263.3 165.9,264.0 169.8,264.7 173.7,265.3 177.7,266.0 181.6,266.6 185.5,267.1 189.4,267.6 193.3,268.1 197.2,268.6 201.1,269.0 205.0,269.4 208.9,269.8 212.8,270.1 216.7,270.4 220.6,270.7 224.5,270.9" fill="none" stroke="#ff0000" stroke-width="3.3"/>
<polyline points="37.1,233.6 41.0,234.6 44.9,235.5 48.8,236.4 52.7,237.3 56.6,238.2 60.5,239.1 64.4,240.1 68.3,241.0 72.2,241.8 76.1,242.7 80.0,243.6 84.0,244.5 87.9,245.4 91.8,246.3 95.7,247.1 99.6,248.0 103.5,248.9 107.4,249.7 111.3,250.6 115.2,251.4 119.1,252.3 123.0,253.1 126.9,254.0 130.8,254.8 134.7,255.6 138.6,256.5 142.5,257.3 146.4,258.1 150.3,258.9 154.2,259.7 158.1,260.5 162.0,261.3 165.9,262.1 169.8,262.9 173.7,263.7 177.7,264.5 181.6,265.3 185.5,266.0 189.4,266.8 193.3,267.6 197.2,268.3 201.1,269.1 205.0,269.9 208.9,270.6 212.8,271.4 216.7,272.1 220.6,272.8 224.5,273.6" fill="none" stroke="#0000ff" stroke-width="3.3"/>
<path d="M37.1 196.7V293.9H225.2" fill="none" stroke="#231f20" stroke-width="1.5"/>
<path d="M37.1 197.3h2.7M37.1 221.4h2.7M37.1 245.6h2.7M37.1 269.7h2.7M68.3 293.9v-2.6M107.4 293.9v-2.6M146.4 293.9v-2.6M185.5 293.9v-2.6M224.5 293.9v-2.6" fill="none" stroke="#231f20" stroke-width="1.3"/>
<text x="32.9" y="202.1" font-size="12.8" text-anchor="end" textLength="15.9" lengthAdjust="spacingAndGlyphs">3.2</text>
<text x="32.9" y="226.2" font-size="12.8" text-anchor="end" textLength="5.8" lengthAdjust="spacingAndGlyphs">3</text>
<text x="32.9" y="250.4" font-size="12.8" text-anchor="end" textLength="15.9" lengthAdjust="spacingAndGlyphs">2.8</text>
<text x="32.9" y="274.5" font-size="12.8" text-anchor="end" textLength="15.9" lengthAdjust="spacingAndGlyphs">2.6</text>
<text x="32.9" y="298.7" font-size="12.8" text-anchor="end" textLength="15.9" lengthAdjust="spacingAndGlyphs">2.4</text>
<text x="68.6" y="308.9" font-size="11.4" text-anchor="middle">10</text>
<text x="107.7" y="308.9" font-size="11.4" text-anchor="middle">15</text>
<text x="146.7" y="308.9" font-size="11.4" text-anchor="middle">20</text>
<text x="185.8" y="308.9" font-size="11.4" text-anchor="middle">25</text>
<text x="224.8" y="308.9" font-size="11.4" text-anchor="middle">30</text>
<text x="131.0" y="324.1" font-size="12" text-anchor="middle" textLength="22" lengthAdjust="spacingAndGlyphs">Age</text>
<text transform="translate(10.9 248.2) rotate(-90)" font-size="12.6" text-anchor="middle" textLength="101" lengthAdjust="spacingAndGlyphs">Cortical Thickness</text>
</g>
<g>
<use href="#dotsL" transform="translate(0 331.7)"/>
<polygon points="37.1,386.0 41.0,387.4 44.9,388.8 48.8,390.3 52.7,391.7 56.6,393.2 60.5,394.6 64.4,396.1 68.3,397.6 72.2,399.0 76.1,400.5 80.0,402.0 84.0,403.5 87.9,405.0 91.8,406.5 95.7,408.0 99.6,409.5 103.5,410.9 107.4,412.4 111.3,413.8 115.2,415.3 119.1,416.7 123.0,418.1 126.9,419.5 130.8,420.9 134.7,422.2 138.6,423.4 142.5,424.6 146.4,425.8 150.3,426.8 154.2,427.8 158.1,428.7 162.0,429.5 165.9,430.2 169.8,430.8 173.7,431.3 177.7,431.6 181.6,431.8 185.5,431.9 189.4,431.7 193.3,431.4 197.2,431.0 201.1,430.3 205.0,429.4 208.9,428.3 212.8,427.0 216.7,425.4 220.6,423.6 224.5,421.5 224.5,439.6 220.6,440.0 216.7,440.4 212.8,440.7 208.9,440.8 205.0,440.9 201.1,440.9 197.2,440.8 193.3,440.6 189.4,440.3 185.5,439.9 181.6,439.5 177.7,438.9 173.7,438.3 169.8,437.6 165.9,436.8 162.0,436.0 158.1,435.0 154.2,434.0 150.3,433.0 146.4,431.9 142.5,430.7 138.6,429.5 134.7,428.2 130.8,426.9 126.9,425.5 123.0,424.1 119.1,422.7 115.2,421.3 111.3,419.9 107.4,418.4 103.5,417.0 99.6,415.6 95.7,414.2 91.8,412.8 87.9,411.5 84.0,410.3 80.0,409.1 76.1,408.1 72.2,407.1 68.3,406.2 64.4,405.4 60.5,404.8 56.6,404.3 52.7,403.9 48.8,403.7 44.9,403.7 41.0,403.8 37.1,404.1" fill="#ffffff" fill-opacity=".55" stroke="none"/>
<polygon points="37.1,386.0 41.0,387.4 44.9,388.8 48.8,390.3 52.7,391.7 56.6,393.2 60.5,394.6 64.4,396.1 68.3,397.6 72.2,399.0 76.1,400.5 80.0,402.0 84.0,403.5 87.9,405.0 91.8,406.5 95.7,408.0 99.6,409.5 103.5,410.9 107.4,412.4 111.3,413.8 115.2,415.3 119.1,416.7 123.0,418.1 126.9,419.5 130.8,420.9 134.7,422.2 138.6,423.4 142.5,424.6 146.4,425.8 150.3,426.8 154.2,427.8 158.1,428.7 162.0,429.5 165.9,430.2 169.8,430.8 173.7,431.3 177.7,431.6 181.6,431.8 185.5,431.9 189.4,431.7 193.3,431.4 197.2,431.0 201.1,430.3 205.0,429.4 208.9,428.3 212.8,427.0 216.7,425.4 220.6,423.6 224.5,421.5 224.5,439.6 220.6,440.0 216.7,440.4 212.8,440.7 208.9,440.8 205.0,440.9 201.1,440.9 197.2,440.8 193.3,440.6 189.4,440.3 185.5,439.9 181.6,439.5 177.7,438.9 173.7,438.3 169.8,437.6 165.9,436.8 162.0,436.0 158.1,435.0 154.2,434.0 150.3,433.0 146.4,431.9 142.5,430.7 138.6,429.5 134.7,428.2 130.8,426.9 126.9,425.5 123.0,424.1 119.1,422.7 115.2,421.3 111.3,419.9 107.4,418.4 103.5,417.0 99.6,415.6 95.7,414.2 91.8,412.8 87.9,411.5 84.0,410.3 80.0,409.1 76.1,408.1 72.2,407.1 68.3,406.2 64.4,405.4 60.5,404.8 56.6,404.3 52.7,403.9 48.8,403.7 44.9,403.7 41.0,403.8 37.1,404.1" fill="#ff0000" fill-opacity=".06" stroke="#ff0000" stroke-width=".5" stroke-opacity=".75"/>
<polygon points="37.1,393.8 41.0,394.6 44.9,395.4 48.8,396.3 52.7,397.2 56.6,398.1 60.5,399.0 64.4,400.0 68.3,400.9 72.2,401.9 76.1,402.9 80.0,403.9 84.0,405.0 87.9,406.0 91.8,407.1 95.7,408.2 99.6,409.3 103.5,410.4 107.4,411.5 111.3,412.6 115.2,413.8 119.1,414.9 123.0,416.1 126.9,417.2 130.8,418.4 134.7,419.5 138.6,420.6 142.5,421.7 146.4,422.8 150.3,423.8 154.2,424.8 158.1,425.7 162.0,426.5 165.9,427.3 169.8,428.1 173.7,428.7 177.7,429.2 181.6,429.7 185.5,430.0 189.4,430.2 193.3,430.3 197.2,430.3 201.1,430.1 205.0,429.7 208.9,429.1 212.8,428.4 216.7,427.5 220.6,426.4 224.5,425.0 224.5,445.5 220.6,444.9 216.7,444.3 212.8,443.6 208.9,443.0 205.0,442.3 201.1,441.6 197.2,440.9 193.3,440.1 189.4,439.3 185.5,438.5 181.6,437.7 177.7,436.8 173.7,435.9 169.8,435.0 165.9,434.0 162.0,433.1 158.1,432.0 154.2,431.0 150.3,430.0 146.4,428.9 142.5,427.8 138.6,426.7 134.7,425.5 130.8,424.4 126.9,423.3 123.0,422.1 119.1,421.0 115.2,419.8 111.3,418.7 107.4,417.5 103.5,416.4 99.6,415.4 95.7,414.4 91.8,413.4 87.9,412.5 84.0,411.6 80.0,410.8 76.1,410.1 72.2,409.5 68.3,409.0 64.4,408.6 60.5,408.3 56.6,408.2 52.7,408.1 48.8,408.2 44.9,408.5 41.0,408.9 37.1,409.5" fill="#ffffff" fill-opacity=".55" stroke="none"/>
<polygon points="37.1,393.8 41.0,394.6 44.9,395.4 48.8,396.3 52.7,397.2 56.6,398.1 60.5,399.0 64.4,400.0 68.3,400.9 72.2,401.9 76.1,402.9 80.0,403.9 84.0,405.0 87.9,406.0 91.8,407.1 95.7,408.2 99.6,409.3 103.5,410.4 107.4,411.5 111.3,412.6 115.2,413.8 119.1,414.9 123.0,416.1 126.9,417.2 130.8,418.4 134.7,419.5 138.6,420.6 142.5,421.7 146.4,422.8 150.3,423.8 154.2,424.8 158.1,425.7 162.0,426.5 165.9,427.3 169.8,428.1 173.7,428.7 177.7,429.2 181.6,429.7 185.5,430.0 189.4,430.2 193.3,430.3 197.2,430.3 201.1,430.1 205.0,429.7 208.9,429.1 212.8,428.4 216.7,427.5 220.6,426.4 224.5,425.0 224.5,445.5 220.6,444.9 216.7,444.3 212.8,443.6 208.9,443.0 205.0,442.3 201.1,441.6 197.2,440.9 193.3,440.1 189.4,439.3 185.5,438.5 181.6,437.7 177.7,436.8 173.7,435.9 169.8,435.0 165.9,434.0 162.0,433.1 158.1,432.0 154.2,431.0 150.3,430.0 146.4,428.9 142.5,427.8 138.6,426.7 134.7,425.5 130.8,424.4 126.9,423.3 123.0,422.1 119.1,421.0 115.2,419.8 111.3,418.7 107.4,417.5 103.5,416.4 99.6,415.4 95.7,414.4 91.8,413.4 87.9,412.5 84.0,411.6 80.0,410.8 76.1,410.1 72.2,409.5 68.3,409.0 64.4,408.6 60.5,408.3 56.6,408.2 52.7,408.1 48.8,408.2 44.9,408.5 41.0,408.9 37.1,409.5" fill="#0000ff" fill-opacity=".06" stroke="#0000ff" stroke-width=".5" stroke-opacity=".75"/>
<polyline points="37.1,395.1 41.0,395.6 44.9,396.3 48.8,397.0 52.7,397.8 56.6,398.7 60.5,399.7 64.4,400.7 68.3,401.9 72.2,403.1 76.1,404.3 80.0,405.6 84.0,406.9 87.9,408.3 91.8,409.7 95.7,411.1 99.6,412.5 103.5,414.0 107.4,415.4 111.3,416.9 115.2,418.3 119.1,419.7 123.0,421.1 126.9,422.5 130.8,423.9 134.7,425.2 138.6,426.4 142.5,427.7 146.4,428.8 150.3,429.9 154.2,430.9 158.1,431.9 162.0,432.8 165.9,433.5 169.8,434.2 173.7,434.8 177.7,435.3 181.6,435.7 185.5,435.9 189.4,436.0 193.3,436.0 197.2,435.9 201.1,435.6 205.0,435.2 208.9,434.6 212.8,433.8 216.7,432.9 220.6,431.8 224.5,430.5" fill="none" stroke="#ff0000" stroke-width="3.3"/>
<polyline points="37.1,401.6 41.0,401.8 44.9,402.0 48.8,402.3 52.7,402.7 56.6,403.1 60.5,403.7 64.4,404.3 68.3,405.0 72.2,405.7 76.1,406.5 80.0,407.4 84.0,408.3 87.9,409.2 91.8,410.2 95.7,411.3 99.6,412.3 103.5,413.4 107.4,414.5 111.3,415.7 115.2,416.8 119.1,417.9 123.0,419.1 126.9,420.2 130.8,421.4 134.7,422.5 138.6,423.6 142.5,424.7 146.4,425.8 150.3,426.9 154.2,427.9 158.1,428.9 162.0,429.8 165.9,430.7 169.8,431.5 173.7,432.3 177.7,433.0 181.6,433.7 185.5,434.3 189.4,434.8 193.3,435.2 197.2,435.6 201.1,435.8 205.0,436.0 208.9,436.1 212.8,436.0 216.7,435.9 220.6,435.7 224.5,435.3" fill="none" stroke="#0000ff" stroke-width="3.3"/>
<path d="M37.1 363.8V461.0H225.2" fill="none" stroke="#231f20" stroke-width="1.5"/>
<path d="M37.1 364.4h2.7M37.1 388.5h2.7M37.1 412.7h2.7M37.1 436.8h2.7M68.3 461.0v-2.6M107.4 461.0v-2.6M146.4 461.0v-2.6M185.5 461.0v-2.6M224.5 461.0v-2.6" fill="none" stroke="#231f20" stroke-width="1.3"/>
<text x="32.9" y="369.2" font-size="12.8" text-anchor="end" textLength="15.9" lengthAdjust="spacingAndGlyphs">3.2</text>
<text x="32.9" y="393.3" font-size="12.8" text-anchor="end" textLength="5.8" lengthAdjust="spacingAndGlyphs">3</text>
<text x="32.9" y="417.5" font-size="12.8" text-anchor="end" textLength="15.9" lengthAdjust="spacingAndGlyphs">2.8</text>
<text x="32.9" y="441.6" font-size="12.8" text-anchor="end" textLength="15.9" lengthAdjust="spacingAndGlyphs">2.6</text>
<text x="32.9" y="465.8" font-size="12.8" text-anchor="end" textLength="15.9" lengthAdjust="spacingAndGlyphs">2.4</text>
<text x="68.6" y="476.0" font-size="11.4" text-anchor="middle">10</text>
<text x="107.7" y="476.0" font-size="11.4" text-anchor="middle">15</text>
<text x="146.7" y="476.0" font-size="11.4" text-anchor="middle">20</text>
<text x="185.8" y="476.0" font-size="11.4" text-anchor="middle">25</text>
<text x="224.8" y="476.0" font-size="11.4" text-anchor="middle">30</text>
<text x="131.0" y="491.2" font-size="12" text-anchor="middle" textLength="22" lengthAdjust="spacingAndGlyphs">Age</text>
<text transform="translate(10.9 415.3) rotate(-90)" font-size="12.6" text-anchor="middle" textLength="101" lengthAdjust="spacingAndGlyphs">Cortical Thickness</text>
</g>
<g>
<polygon points="493.4,61.0 497.3,62.2 501.2,63.3 505.1,64.5 509.0,65.6 512.9,66.7 516.9,67.9 520.8,69.0 524.7,70.1 528.6,71.2 532.5,72.3 536.4,73.4 540.3,74.5 544.2,75.6 548.1,76.7 552.0,77.7 555.9,78.8 559.8,79.8 563.8,80.9 567.7,81.9 571.6,83.0 575.5,84.0 579.4,85.0 583.3,86.0 587.2,87.0 591.1,88.0 595.0,89.0 598.9,90.0 602.8,91.0 606.7,92.0 610.6,93.0 614.6,94.0 618.5,94.9 622.4,95.9 626.3,96.8 630.2,97.8 634.1,98.8 638.0,99.7 641.9,100.6 645.8,101.6 649.7,102.5 653.6,103.4 657.5,104.3 661.5,105.3 665.4,106.2 669.3,107.1 673.2,108.0 677.1,108.9 681.0,109.8 681.0,118.7 677.1,117.5 673.2,116.4 669.3,115.2 665.4,114.1 661.5,112.9 657.5,111.8 653.6,110.6 649.7,109.5 645.8,108.4 641.9,107.3 638.0,106.2 634.1,105.1 630.2,104.0 626.3,102.9 622.4,101.8 618.5,100.7 614.6,99.6 610.6,98.5 606.7,97.4 602.8,96.4 598.9,95.3 595.0,94.3 591.1,93.2 587.2,92.2 583.3,91.1 579.4,90.1 575.5,89.0 571.6,88.0 567.7,87.0 563.8,86.0 559.8,85.0 555.9,84.0 552.0,83.0 548.1,82.0 544.2,81.0 540.3,80.0 536.4,79.1 532.5,78.1 528.6,77.2 524.7,76.2 520.8,75.3 516.9,74.4 512.9,73.4 509.0,72.5 505.1,71.6 501.2,70.7 497.3,69.8 493.4,68.9" fill="#ffffff" fill-opacity=".55" stroke="none"/>
<polygon points="493.4,61.0 497.3,62.2 501.2,63.3 505.1,64.5 509.0,65.6 512.9,66.7 516.9,67.9 520.8,69.0 524.7,70.1 528.6,71.2 532.5,72.3 536.4,73.4 540.3,74.5 544.2,75.6 548.1,76.7 552.0,77.7 555.9,78.8 559.8,79.8 563.8,80.9 567.7,81.9 571.6,83.0 575.5,84.0 579.4,85.0 583.3,86.0 587.2,87.0 591.1,88.0 595.0,89.0 598.9,90.0 602.8,91.0 606.7,92.0 610.6,93.0 614.6,94.0 618.5,94.9 622.4,95.9 626.3,96.8 630.2,97.8 634.1,98.8 638.0,99.7 641.9,100.6 645.8,101.6 649.7,102.5 653.6,103.4 657.5,104.3 661.5,105.3 665.4,106.2 669.3,107.1 673.2,108.0 677.1,108.9 681.0,109.8 681.0,118.7 677.1,117.5 673.2,116.4 669.3,115.2 665.4,114.1 661.5,112.9 657.5,111.8 653.6,110.6 649.7,109.5 645.8,108.4 641.9,107.3 638.0,106.2 634.1,105.1 630.2,104.0 626.3,102.9 622.4,101.8 618.5,100.7 614.6,99.6 610.6,98.5 606.7,97.4 602.8,96.4 598.9,95.3 595.0,94.3 591.1,93.2 587.2,92.2 583.3,91.1 579.4,90.1 575.5,89.0 571.6,88.0 567.7,87.0 563.8,86.0 559.8,85.0 555.9,84.0 552.0,83.0 548.1,82.0 544.2,81.0 540.3,80.0 536.4,79.1 532.5,78.1 528.6,77.2 524.7,76.2 520.8,75.3 516.9,74.4 512.9,73.4 509.0,72.5 505.1,71.6 501.2,70.7 497.3,69.8 493.4,68.9" fill="#ff0000" fill-opacity=".06" stroke="#ff0000" stroke-width=".5" stroke-opacity=".75"/>
<polygon points="493.4,64.8 497.3,65.9 501.2,66.9 505.1,67.9 509.0,68.9 512.9,69.9 516.9,70.9 520.8,71.8 524.7,72.8 528.6,73.8 532.5,74.7 536.4,75.7 540.3,76.6 544.2,77.6 548.1,78.5 552.0,79.4 555.9,80.3 559.8,81.2 563.8,82.1 567.7,83.0 571.6,83.9 575.5,84.8 579.4,85.7 583.3,86.5 587.2,87.4 591.1,88.2 595.0,89.1 598.9,89.9 602.8,90.8 606.7,91.6 610.6,92.4 614.6,93.3 618.5,94.1 622.4,94.9 626.3,95.7 630.2,96.5 634.1,97.3 638.0,98.1 641.9,98.9 645.8,99.6 649.7,100.4 653.6,101.2 657.5,101.9 661.5,102.7 665.4,103.4 669.3,104.2 673.2,104.9 677.1,105.7 681.0,106.4 681.0,115.8 677.1,114.7 673.2,113.7 669.3,112.7 665.4,111.7 661.5,110.7 657.5,109.7 653.6,108.7 649.7,107.7 645.8,106.7 641.9,105.7 638.0,104.7 634.1,103.8 630.2,102.8 626.3,101.8 622.4,100.9 618.5,99.9 614.6,99.0 610.6,98.0 606.7,97.1 602.8,96.2 598.9,95.3 595.0,94.3 591.1,93.4 587.2,92.5 583.3,91.6 579.4,90.7 575.5,89.8 571.6,89.0 567.7,88.1 563.8,87.2 559.8,86.3 555.9,85.5 552.0,84.6 548.1,83.8 544.2,83.0 540.3,82.1 536.4,81.3 532.5,80.5 528.6,79.7 524.7,78.9 520.8,78.1 516.9,77.3 512.9,76.6 509.0,75.8 505.1,75.0 501.2,74.3 497.3,73.5 493.4,72.8" fill="#ffffff" fill-opacity=".55" stroke="none"/>
<polygon points="493.4,64.8 497.3,65.9 501.2,66.9 505.1,67.9 509.0,68.9 512.9,69.9 516.9,70.9 520.8,71.8 524.7,72.8 528.6,73.8 532.5,74.7 536.4,75.7 540.3,76.6 544.2,77.6 548.1,78.5 552.0,79.4 555.9,80.3 559.8,81.2 563.8,82.1 567.7,83.0 571.6,83.9 575.5,84.8 579.4,85.7 583.3,86.5 587.2,87.4 591.1,88.2 595.0,89.1 598.9,89.9 602.8,90.8 606.7,91.6 610.6,92.4 614.6,93.3 618.5,94.1 622.4,94.9 626.3,95.7 630.2,96.5 634.1,97.3 638.0,98.1 641.9,98.9 645.8,99.6 649.7,100.4 653.6,101.2 657.5,101.9 661.5,102.7 665.4,103.4 669.3,104.2 673.2,104.9 677.1,105.7 681.0,106.4 681.0,115.8 677.1,114.7 673.2,113.7 669.3,112.7 665.4,111.7 661.5,110.7 657.5,109.7 653.6,108.7 649.7,107.7 645.8,106.7 641.9,105.7 638.0,104.7 634.1,103.8 630.2,102.8 626.3,101.8 622.4,100.9 618.5,99.9 614.6,99.0 610.6,98.0 606.7,97.1 602.8,96.2 598.9,95.3 595.0,94.3 591.1,93.4 587.2,92.5 583.3,91.6 579.4,90.7 575.5,89.8 571.6,89.0 567.7,88.1 563.8,87.2 559.8,86.3 555.9,85.5 552.0,84.6 548.1,83.8 544.2,83.0 540.3,82.1 536.4,81.3 532.5,80.5 528.6,79.7 524.7,78.9 520.8,78.1 516.9,77.3 512.9,76.6 509.0,75.8 505.1,75.0 501.2,74.3 497.3,73.5 493.4,72.8" fill="#0000ff" fill-opacity=".06" stroke="#0000ff" stroke-width=".5" stroke-opacity=".75"/>
<polyline points="493.4,65.0 497.3,66.0 501.2,67.0 505.1,68.0 509.0,69.1 512.9,70.1 516.9,71.1 520.8,72.1 524.7,73.2 528.6,74.2 532.5,75.2 536.4,76.2 540.3,77.3 544.2,78.3 548.1,79.3 552.0,80.4 555.9,81.4 559.8,82.4 563.8,83.4 567.7,84.5 571.6,85.5 575.5,86.5 579.4,87.5 583.3,88.6 587.2,89.6 591.1,90.6 595.0,91.6 598.9,92.7 602.8,93.7 606.7,94.7 610.6,95.7 614.6,96.8 618.5,97.8 622.4,98.8 626.3,99.9 630.2,100.9 634.1,101.9 638.0,102.9 641.9,104.0 645.8,105.0 649.7,106.0 653.6,107.0 657.5,108.1 661.5,109.1 665.4,110.1 669.3,111.1 673.2,112.2 677.1,113.2 681.0,114.2" fill="none" stroke="#ff0000" stroke-width="3.3"/>
<polyline points="493.4,68.8 497.3,69.7 501.2,70.6 505.1,71.5 509.0,72.3 512.9,73.2 516.9,74.1 520.8,75.0 524.7,75.9 528.6,76.7 532.5,77.6 536.4,78.5 540.3,79.4 544.2,80.3 548.1,81.1 552.0,82.0 555.9,82.9 559.8,83.8 563.8,84.7 567.7,85.6 571.6,86.4 575.5,87.3 579.4,88.2 583.3,89.1 587.2,90.0 591.1,90.8 595.0,91.7 598.9,92.6 602.8,93.5 606.7,94.4 610.6,95.2 614.6,96.1 618.5,97.0 622.4,97.9 626.3,98.8 630.2,99.6 634.1,100.5 638.0,101.4 641.9,102.3 645.8,103.2 649.7,104.0 653.6,104.9 657.5,105.8 661.5,106.7 665.4,107.6 669.3,108.4 673.2,109.3 677.1,110.2 681.0,111.1" fill="none" stroke="#0000ff" stroke-width="3.3"/>
<path d="M493.4 32.6V129.8H681.7" fill="none" stroke="#231f20" stroke-width="1.5"/>
<path d="M493.4 33.2h2.7M493.4 57.3h2.7M493.4 81.5h2.7M493.4 105.6h2.7M524.7 129.8v-2.6M563.8 129.8v-2.6M602.8 129.8v-2.6M641.9 129.8v-2.6M681.0 129.8v-2.6" fill="none" stroke="#231f20" stroke-width="1.3"/>
<text x="489.2" y="38.0" font-size="12.8" text-anchor="end" textLength="15.9" lengthAdjust="spacingAndGlyphs">3.2</text>
<text x="489.2" y="62.1" font-size="12.8" text-anchor="end" textLength="5.8" lengthAdjust="spacingAndGlyphs">3</text>
<text x="489.2" y="86.3" font-size="12.8" text-anchor="end" textLength="15.9" lengthAdjust="spacingAndGlyphs">2.8</text>
<text x="489.2" y="110.4" font-size="12.8" text-anchor="end" textLength="15.9" lengthAdjust="spacingAndGlyphs">2.6</text>
<text x="489.2" y="134.6" font-size="12.8" text-anchor="end" textLength="15.9" lengthAdjust="spacingAndGlyphs">2.4</text>
<text x="525.0" y="144.8" font-size="11.4" text-anchor="middle">10</text>
<text x="564.0" y="144.8" font-size="11.4" text-anchor="middle">15</text>
<text x="603.1" y="144.8" font-size="11.4" text-anchor="middle">20</text>
<text x="642.2" y="144.8" font-size="11.4" text-anchor="middle">25</text>
<text x="681.3" y="144.8" font-size="11.4" text-anchor="middle">30</text>
<text x="587.4" y="160.0" font-size="12" text-anchor="middle" textLength="22" lengthAdjust="spacingAndGlyphs">Age</text>
<text transform="translate(465.7 84.1) rotate(-90)" font-size="12.6" text-anchor="middle" textLength="101" lengthAdjust="spacingAndGlyphs">Cortical Thickness</text>
</g>
<g>
<use href="#dotsR" transform="translate(0 164.6)"/>
<polygon points="493.4,217.3 497.3,219.4 501.2,221.5 505.1,223.5 509.0,225.4 512.9,227.3 516.9,229.2 520.8,231.0 524.7,232.7 528.6,234.4 532.5,236.1 536.4,237.7 540.3,239.2 544.2,240.7 548.1,242.2 552.0,243.6 555.9,244.9 559.8,246.3 563.8,247.5 567.7,248.7 571.6,249.9 575.5,251.0 579.4,252.1 583.3,253.1 587.2,254.1 591.1,255.1 595.0,256.0 598.9,256.9 602.8,257.7 606.7,258.5 610.6,259.3 614.6,260.0 618.5,260.7 622.4,261.3 626.3,261.9 630.2,262.5 634.1,263.0 638.0,263.5 641.9,263.9 645.8,264.3 649.7,264.7 653.6,265.0 657.5,265.3 661.5,265.6 665.4,265.8 669.3,265.9 673.2,266.1 677.1,266.1 681.0,266.2 681.0,277.0 677.1,276.6 673.2,276.2 669.3,275.7 665.4,275.2 661.5,274.7 657.5,274.1 653.6,273.5 649.7,272.9 645.8,272.3 641.9,271.7 638.0,271.0 634.1,270.3 630.2,269.5 626.3,268.8 622.4,268.0 618.5,267.2 614.6,266.4 610.6,265.5 606.7,264.6 602.8,263.7 598.9,262.7 595.0,261.8 591.1,260.8 587.2,259.8 583.3,258.7 579.4,257.6 575.5,256.5 571.6,255.4 567.7,254.3 563.8,253.1 559.8,251.9 555.9,250.7 552.0,249.5 548.1,248.3 544.2,247.1 540.3,245.8 536.4,244.5 532.5,243.2 528.6,241.9 524.7,240.6 520.8,239.2 516.9,237.9 512.9,236.5 509.0,235.1 505.1,233.7 501.2,232.3 497.3,230.8 493.4,229.4" fill="#ffffff" fill-opacity=".55" stroke="none"/>
<polygon points="493.4,217.3 497.3,219.4 501.2,221.5 505.1,223.5 509.0,225.4 512.9,227.3 516.9,229.2 520.8,231.0 524.7,232.7 528.6,234.4 532.5,236.1 536.4,237.7 540.3,239.2 544.2,240.7 548.1,242.2 552.0,243.6 555.9,244.9 559.8,246.3 563.8,247.5 567.7,248.7 571.6,249.9 575.5,251.0 579.4,252.1 583.3,253.1 587.2,254.1 591.1,255.1 595.0,256.0 598.9,256.9 602.8,257.7 606.7,258.5 610.6,259.3 614.6,260.0 618.5,260.7 622.4,261.3 626.3,261.9 630.2,262.5 634.1,263.0 638.0,263.5 641.9,263.9 645.8,264.3 649.7,264.7 653.6,265.0 657.5,265.3 661.5,265.6 665.4,265.8 669.3,265.9 673.2,266.1 677.1,266.1 681.0,266.2 681.0,277.0 677.1,276.6 673.2,276.2 669.3,275.7 665.4,275.2 661.5,274.7 657.5,274.1 653.6,273.5 649.7,272.9 645.8,272.3 641.9,271.7 638.0,271.0 634.1,270.3 630.2,269.5 626.3,268.8 622.4,268.0 618.5,267.2 614.6,266.4 610.6,265.5 606.7,264.6 602.8,263.7 598.9,262.7 595.0,261.8 591.1,260.8 587.2,259.8 583.3,258.7 579.4,257.6 575.5,256.5 571.6,255.4 567.7,254.3 563.8,253.1 559.8,251.9 555.9,250.7 552.0,249.5 548.1,248.3 544.2,247.1 540.3,245.8 536.4,244.5 532.5,243.2 528.6,241.9 524.7,240.6 520.8,239.2 516.9,237.9 512.9,236.5 509.0,235.1 505.1,233.7 501.2,232.3 497.3,230.8 493.4,229.4" fill="#ff0000" fill-opacity=".06" stroke="#ff0000" stroke-width=".5" stroke-opacity=".75"/>
<polygon points="493.4,227.5 497.3,228.8 501.2,230.0 505.1,231.3 509.0,232.5 512.9,233.7 516.9,234.8 520.8,236.0 524.7,237.1 528.6,238.2 532.5,239.3 536.4,240.3 540.3,241.4 544.2,242.4 548.1,243.4 552.0,244.4 555.9,245.4 559.8,246.3 563.8,247.3 567.7,248.2 571.6,249.1 575.5,250.0 579.4,250.8 583.3,251.7 587.2,252.5 591.1,253.3 595.0,254.1 598.9,254.9 602.8,255.7 606.7,256.4 610.6,257.2 614.6,257.9 618.5,258.6 622.4,259.3 626.3,260.0 630.2,260.6 634.1,261.3 638.0,261.9 641.9,262.5 645.8,263.1 649.7,263.7 653.6,264.2 657.5,264.8 661.5,265.3 665.4,265.8 669.3,266.3 673.2,266.8 677.1,267.3 681.0,267.7 681.0,283.4 677.1,282.2 673.2,281.1 669.3,279.9 665.4,278.8 661.5,277.7 657.5,276.6 653.6,275.5 649.7,274.4 645.8,273.3 641.9,272.2 638.0,271.2 634.1,270.1 630.2,269.1 626.3,268.0 622.4,267.0 618.5,266.0 614.6,265.0 610.6,264.0 606.7,263.0 602.8,262.0 598.9,261.1 595.0,260.1 591.1,259.2 587.2,258.3 583.3,257.3 579.4,256.4 575.5,255.5 571.6,254.6 567.7,253.7 563.8,252.9 559.8,252.0 555.9,251.2 552.0,250.4 548.1,249.6 544.2,248.8 540.3,248.0 536.4,247.2 532.5,246.4 528.6,245.7 524.7,245.0 520.8,244.2 516.9,243.5 512.9,242.9 509.0,242.2 505.1,241.5 501.2,240.9 497.3,240.2 493.4,239.6" fill="#ffffff" fill-opacity=".55" stroke="none"/>
<polygon points="493.4,227.5 497.3,228.8 501.2,230.0 505.1,231.3 509.0,232.5 512.9,233.7 516.9,234.8 520.8,236.0 524.7,237.1 528.6,238.2 532.5,239.3 536.4,240.3 540.3,241.4 544.2,242.4 548.1,243.4 552.0,244.4 555.9,245.4 559.8,246.3 563.8,247.3 567.7,248.2 571.6,249.1 575.5,250.0 579.4,250.8 583.3,251.7 587.2,252.5 591.1,253.3 595.0,254.1 598.9,254.9 602.8,255.7 606.7,256.4 610.6,257.2 614.6,257.9 618.5,258.6 622.4,259.3 626.3,260.0 630.2,260.6 634.1,261.3 638.0,261.9 641.9,262.5 645.8,263.1 649.7,263.7 653.6,264.2 657.5,264.8 661.5,265.3 665.4,265.8 669.3,266.3 673.2,266.8 677.1,267.3 681.0,267.7 681.0,283.4 677.1,282.2 673.2,281.1 669.3,279.9 665.4,278.8 661.5,277.7 657.5,276.6 653.6,275.5 649.7,274.4 645.8,273.3 641.9,272.2 638.0,271.2 634.1,270.1 630.2,269.1 626.3,268.0 622.4,267.0 618.5,266.0 614.6,265.0 610.6,264.0 606.7,263.0 602.8,262.0 598.9,261.1 595.0,260.1 591.1,259.2 587.2,258.3 583.3,257.3 579.4,256.4 575.5,255.5 571.6,254.6 567.7,253.7 563.8,252.9 559.8,252.0 555.9,251.2 552.0,250.4 548.1,249.6 544.2,248.8 540.3,248.0 536.4,247.2 532.5,246.4 528.6,245.7 524.7,245.0 520.8,244.2 516.9,243.5 512.9,242.9 509.0,242.2 505.1,241.5 501.2,240.9 497.3,240.2 493.4,239.6" fill="#0000ff" fill-opacity=".06" stroke="#0000ff" stroke-width=".5" stroke-opacity=".75"/>
<polyline points="493.4,223.3 497.3,225.1 501.2,226.9 505.1,228.6 509.0,230.3 512.9,231.9 516.9,233.5 520.8,235.1 524.7,236.6 528.6,238.2 532.5,239.6 536.4,241.1 540.3,242.5 544.2,243.9 548.1,245.2 552.0,246.6 555.9,247.8 559.8,249.1 563.8,250.3 567.7,251.5 571.6,252.7 575.5,253.8 579.4,254.9 583.3,255.9 587.2,256.9 591.1,257.9 595.0,258.9 598.9,259.8 602.8,260.7 606.7,261.6 610.6,262.4 614.6,263.2 618.5,263.9 622.4,264.7 626.3,265.4 630.2,266.0 634.1,266.6 638.0,267.2 641.9,267.8 645.8,268.3 649.7,268.8 653.6,269.3 657.5,269.7 661.5,270.1 665.4,270.5 669.3,270.8 673.2,271.1 677.1,271.4 681.0,271.6" fill="none" stroke="#ff0000" stroke-width="3.3"/>
<polyline points="493.4,233.6 497.3,234.5 501.2,235.5 505.1,236.4 509.0,237.3 512.9,238.3 516.9,239.2 520.8,240.1 524.7,241.0 528.6,241.9 532.5,242.9 536.4,243.8 540.3,244.7 544.2,245.6 548.1,246.5 552.0,247.4 555.9,248.3 559.8,249.2 563.8,250.1 567.7,251.0 571.6,251.9 575.5,252.7 579.4,253.6 583.3,254.5 587.2,255.4 591.1,256.3 595.0,257.1 598.9,258.0 602.8,258.9 606.7,259.7 610.6,260.6 614.6,261.4 618.5,262.3 622.4,263.1 626.3,264.0 630.2,264.8 634.1,265.7 638.0,266.5 641.9,267.4 645.8,268.2 649.7,269.0 653.6,269.9 657.5,270.7 661.5,271.5 665.4,272.3 669.3,273.1 673.2,274.0 677.1,274.8 681.0,275.6" fill="none" stroke="#0000ff" stroke-width="3.3"/>
<path d="M493.4 197.2V294.4H681.7" fill="none" stroke="#231f20" stroke-width="1.5"/>
<path d="M493.4 197.8h2.7M493.4 221.9h2.7M493.4 246.1h2.7M493.4 270.2h2.7M524.7 294.4v-2.6M563.8 294.4v-2.6M602.8 294.4v-2.6M641.9 294.4v-2.6M681.0 294.4v-2.6" fill="none" stroke="#231f20" stroke-width="1.3"/>
<text x="489.2" y="202.6" font-size="12.8" text-anchor="end" textLength="15.9" lengthAdjust="spacingAndGlyphs">3.2</text>
<text x="489.2" y="226.8" font-size="12.8" text-anchor="end" textLength="5.8" lengthAdjust="spacingAndGlyphs">3</text>
<text x="489.2" y="250.9" font-size="12.8" text-anchor="end" textLength="15.9" lengthAdjust="spacingAndGlyphs">2.8</text>
<text x="489.2" y="275.0" font-size="12.8" text-anchor="end" textLength="15.9" lengthAdjust="spacingAndGlyphs">2.6</text>
<text x="489.2" y="299.2" font-size="12.8" text-anchor="end" textLength="15.9" lengthAdjust="spacingAndGlyphs">2.4</text>
<text x="525.0" y="309.4" font-size="11.4" text-anchor="middle">10</text>
<text x="564.0" y="309.4" font-size="11.4" text-anchor="middle">15</text>
<text x="603.1" y="309.4" font-size="11.4" text-anchor="middle">20</text>
<text x="642.2" y="309.4" font-size="11.4" text-anchor="middle">25</text>
<text x="681.3" y="309.4" font-size="11.4" text-anchor="middle">30</text>
<text x="587.4" y="324.6" font-size="12" text-anchor="middle" textLength="22" lengthAdjust="spacingAndGlyphs">Age</text>
<text transform="translate(465.7 248.7) rotate(-90)" font-size="12.6" text-anchor="middle" textLength="101" lengthAdjust="spacingAndGlyphs">Cortical Thickness</text>
</g>
<g>
<use href="#dotsR" transform="translate(0 331.2)"/>
<polygon points="493.4,386.2 497.3,387.5 501.2,388.8 505.1,390.1 509.0,391.5 512.9,392.9 516.9,394.4 520.8,395.8 524.7,397.3 528.6,398.8 532.5,400.3 536.4,401.8 540.3,403.3 544.2,404.8 548.1,406.3 552.0,407.8 555.9,409.4 559.8,410.9 563.8,412.4 567.7,413.9 571.6,415.4 575.5,416.9 579.4,418.3 583.3,419.8 587.2,421.2 591.1,422.5 595.0,423.8 598.9,425.0 602.8,426.2 606.7,427.3 610.6,428.3 614.6,429.2 618.5,430.0 622.4,430.7 626.3,431.2 630.2,431.6 634.1,431.9 638.0,432.0 641.9,432.0 645.8,431.7 649.7,431.3 653.6,430.7 657.5,429.9 661.5,428.8 665.4,427.5 669.3,425.9 673.2,424.1 677.1,422.0 681.0,419.6 681.0,437.7 677.1,438.5 673.2,439.1 669.3,439.6 665.4,440.0 661.5,440.3 657.5,440.5 653.6,440.5 649.7,440.5 645.8,440.3 641.9,440.0 638.0,439.7 634.1,439.2 630.2,438.6 626.3,438.0 622.4,437.2 618.5,436.4 614.6,435.5 610.6,434.5 606.7,433.4 602.8,432.3 598.9,431.1 595.0,429.8 591.1,428.5 587.2,427.2 583.3,425.8 579.4,424.4 575.5,422.9 571.6,421.4 567.7,419.9 563.8,418.4 559.8,416.9 555.9,415.5 552.0,414.1 548.1,412.7 544.2,411.3 540.3,410.1 536.4,408.9 532.5,407.8 528.6,406.8 524.7,405.9 520.8,405.1 516.9,404.5 512.9,404.0 509.0,403.7 505.1,403.6 501.2,403.6 497.3,403.8 493.4,404.3" fill="#ffffff" fill-opacity=".55" stroke="none"/>
<polygon points="493.4,386.2 497.3,387.5 501.2,388.8 505.1,390.1 509.0,391.5 512.9,392.9 516.9,394.4 520.8,395.8 524.7,397.3 528.6,398.8 532.5,400.3 536.4,401.8 540.3,403.3 544.2,404.8 548.1,406.3 552.0,407.8 555.9,409.4 559.8,410.9 563.8,412.4 567.7,413.9 571.6,415.4 575.5,416.9 579.4,418.3 583.3,419.8 587.2,421.2 591.1,422.5 595.0,423.8 598.9,425.0 602.8,426.2 606.7,427.3 610.6,428.3 614.6,429.2 618.5,430.0 622.4,430.7 626.3,431.2 630.2,431.6 634.1,431.9 638.0,432.0 641.9,432.0 645.8,431.7 649.7,431.3 653.6,430.7 657.5,429.9 661.5,428.8 665.4,427.5 669.3,425.9 673.2,424.1 677.1,422.0 681.0,419.6 681.0,437.7 677.1,438.5 673.2,439.1 669.3,439.6 665.4,440.0 661.5,440.3 657.5,440.5 653.6,440.5 649.7,440.5 645.8,440.3 641.9,440.0 638.0,439.7 634.1,439.2 630.2,438.6 626.3,438.0 622.4,437.2 618.5,436.4 614.6,435.5 610.6,434.5 606.7,433.4 602.8,432.3 598.9,431.1 595.0,429.8 591.1,428.5 587.2,427.2 583.3,425.8 579.4,424.4 575.5,422.9 571.6,421.4 567.7,419.9 563.8,418.4 559.8,416.9 555.9,415.5 552.0,414.1 548.1,412.7 544.2,411.3 540.3,410.1 536.4,408.9 532.5,407.8 528.6,406.8 524.7,405.9 520.8,405.1 516.9,404.5 512.9,404.0 509.0,403.7 505.1,403.6 501.2,403.6 497.3,403.8 493.4,404.3" fill="#ff0000" fill-opacity=".06" stroke="#ff0000" stroke-width=".5" stroke-opacity=".75"/>
<polygon points="493.4,393.8 497.3,394.6 501.2,395.5 505.1,396.3 509.0,397.2 512.9,398.1 516.9,399.0 520.8,400.0 524.7,400.9 528.6,401.9 532.5,402.9 536.4,403.9 540.3,405.0 544.2,406.0 548.1,407.1 552.0,408.2 555.9,409.3 559.8,410.4 563.8,411.5 567.7,412.6 571.6,413.8 575.5,414.9 579.4,416.1 583.3,417.2 587.2,418.4 591.1,419.5 595.0,420.7 598.9,421.8 602.8,422.8 606.7,423.9 610.6,424.9 614.6,425.8 618.5,426.7 622.4,427.6 626.3,428.3 630.2,429.0 634.1,429.6 638.0,430.1 641.9,430.5 645.8,430.7 649.7,430.9 653.6,430.9 657.5,430.7 661.5,430.5 665.4,430.0 669.3,429.4 673.2,428.5 677.1,427.5 681.0,426.3 681.0,446.8 677.1,446.0 673.2,445.3 669.3,444.6 665.4,443.8 661.5,443.1 657.5,442.3 653.6,441.5 649.7,440.7 645.8,439.8 641.9,438.9 638.0,438.1 634.1,437.1 630.2,436.2 626.3,435.2 622.4,434.2 618.5,433.2 614.6,432.2 610.6,431.1 606.7,430.0 602.8,428.9 598.9,427.8 595.0,426.7 591.1,425.6 587.2,424.4 583.3,423.2 579.4,422.1 575.5,420.9 571.6,419.8 567.7,418.6 563.8,417.5 559.8,416.4 555.9,415.3 552.0,414.3 548.1,413.4 544.2,412.4 540.3,411.6 536.4,410.8 532.5,410.1 528.6,409.5 524.7,409.0 520.8,408.6 516.9,408.3 512.9,408.2 509.0,408.1 505.1,408.3 501.2,408.5 497.3,408.9 493.4,409.5" fill="#ffffff" fill-opacity=".55" stroke="none"/>
<polygon points="493.4,393.8 497.3,394.6 501.2,395.5 505.1,396.3 509.0,397.2 512.9,398.1 516.9,399.0 520.8,400.0 524.7,400.9 528.6,401.9 532.5,402.9 536.4,403.9 540.3,405.0 544.2,406.0 548.1,407.1 552.0,408.2 555.9,409.3 559.8,410.4 563.8,411.5 567.7,412.6 571.6,413.8 575.5,414.9 579.4,416.1 583.3,417.2 587.2,418.4 591.1,419.5 595.0,420.7 598.9,421.8 602.8,422.8 606.7,423.9 610.6,424.9 614.6,425.8 618.5,426.7 622.4,427.6 626.3,428.3 630.2,429.0 634.1,429.6 638.0,430.1 641.9,430.5 645.8,430.7 649.7,430.9 653.6,430.9 657.5,430.7 661.5,430.5 665.4,430.0 669.3,429.4 673.2,428.5 677.1,427.5 681.0,426.3 681.0,446.8 677.1,446.0 673.2,445.3 669.3,444.6 665.4,443.8 661.5,443.1 657.5,442.3 653.6,441.5 649.7,440.7 645.8,439.8 641.9,438.9 638.0,438.1 634.1,437.1 630.2,436.2 626.3,435.2 622.4,434.2 618.5,433.2 614.6,432.2 610.6,431.1 606.7,430.0 602.8,428.9 598.9,427.8 595.0,426.7 591.1,425.6 587.2,424.4 583.3,423.2 579.4,422.1 575.5,420.9 571.6,419.8 567.7,418.6 563.8,417.5 559.8,416.4 555.9,415.3 552.0,414.3 548.1,413.4 544.2,412.4 540.3,411.6 536.4,410.8 532.5,410.1 528.6,409.5 524.7,409.0 520.8,408.6 516.9,408.3 512.9,408.2 509.0,408.1 505.1,408.3 501.2,408.5 497.3,408.9 493.4,409.5" fill="#0000ff" fill-opacity=".06" stroke="#0000ff" stroke-width=".5" stroke-opacity=".75"/>
<polyline points="493.4,395.2 497.3,395.7 501.2,396.2 505.1,396.9 509.0,397.6 512.9,398.5 516.9,399.4 520.8,400.5 524.7,401.6 528.6,402.8 532.5,404.0 536.4,405.3 540.3,406.7 544.2,408.1 548.1,409.5 552.0,410.9 555.9,412.4 559.8,413.9 563.8,415.4 567.7,416.9 571.6,418.4 575.5,419.9 579.4,421.3 583.3,422.8 587.2,424.2 591.1,425.5 595.0,426.8 598.9,428.1 602.8,429.2 606.7,430.3 610.6,431.4 614.6,432.3 618.5,433.2 622.4,433.9 626.3,434.6 630.2,435.1 634.1,435.6 638.0,435.8 641.9,436.0 645.8,436.0 649.7,435.9 653.6,435.6 657.5,435.2 661.5,434.5 665.4,433.8 669.3,432.8 673.2,431.6 677.1,430.2 681.0,428.7" fill="none" stroke="#ff0000" stroke-width="3.3"/>
<polyline points="493.4,401.7 497.3,401.8 501.2,402.0 505.1,402.3 509.0,402.7 512.9,403.1 516.9,403.7 520.8,404.3 524.7,405.0 528.6,405.7 532.5,406.5 536.4,407.4 540.3,408.3 544.2,409.2 548.1,410.2 552.0,411.2 555.9,412.3 559.8,413.4 563.8,414.5 567.7,415.6 571.6,416.8 575.5,417.9 579.4,419.1 583.3,420.2 587.2,421.4 591.1,422.5 595.0,423.7 598.9,424.8 602.8,425.9 606.7,427.0 610.6,428.0 614.6,429.0 618.5,430.0 622.4,430.9 626.3,431.8 630.2,432.6 634.1,433.4 638.0,434.1 641.9,434.7 645.8,435.3 649.7,435.8 653.6,436.2 657.5,436.5 661.5,436.8 665.4,436.9 669.3,437.0 673.2,436.9 677.1,436.8 681.0,436.5" fill="none" stroke="#0000ff" stroke-width="3.3"/>
<path d="M493.4 363.8V461.0H681.7" fill="none" stroke="#231f20" stroke-width="1.5"/>
<path d="M493.4 364.4h2.7M493.4 388.5h2.7M493.4 412.7h2.7M493.4 436.8h2.7M524.7 461.0v-2.6M563.8 461.0v-2.6M602.8 461.0v-2.6M641.9 461.0v-2.6M681.0 461.0v-2.6" fill="none" stroke="#231f20" stroke-width="1.3"/>
<text x="489.2" y="369.2" font-size="12.8" text-anchor="end" textLength="15.9" lengthAdjust="spacingAndGlyphs">3.2</text>
<text x="489.2" y="393.3" font-size="12.8" text-anchor="end" textLength="5.8" lengthAdjust="spacingAndGlyphs">3</text>
<text x="489.2" y="417.5" font-size="12.8" text-anchor="end" textLength="15.9" lengthAdjust="spacingAndGlyphs">2.8</text>
<text x="489.2" y="441.6" font-size="12.8" text-anchor="end" textLength="15.9" lengthAdjust="spacingAndGlyphs">2.6</text>
<text x="489.2" y="465.8" font-size="12.8" text-anchor="end" textLength="15.9" lengthAdjust="spacingAndGlyphs">2.4</text>
<text x="525.0" y="476.0" font-size="11.4" text-anchor="middle">10</text>
<text x="564.0" y="476.0" font-size="11.4" text-anchor="middle">15</text>
<text x="603.1" y="476.0" font-size="11.4" text-anchor="middle">20</text>
<text x="642.2" y="476.0" font-size="11.4" text-anchor="middle">25</text>
<text x="681.3" y="476.0" font-size="11.4" text-anchor="middle">30</text>
<text x="587.4" y="491.2" font-size="12" text-anchor="middle" textLength="22" lengthAdjust="spacingAndGlyphs">Age</text>
<text transform="translate(465.7 415.3) rotate(-90)" font-size="12.6" text-anchor="middle" textLength="101" lengthAdjust="spacingAndGlyphs">Cortical Thickness</text>
</g>
<text x="74.9" y="12.2" font-size="15" textLength="112" lengthAdjust="spacingAndGlyphs">Left Hemisphere</text>
<text x="526.4" y="12" font-size="15" textLength="122" lengthAdjust="spacingAndGlyphs">Right Hemisphere</text>
<text x="332.3" y="11.9" font-size="14.5" textLength="26.3" lengthAdjust="spacingAndGlyphs">Age</text>
<text x="332.3" y="175.6" font-size="14.5" textLength="31.7" lengthAdjust="spacingAndGlyphs">Age²</text>
<text x="332.2" y="344.8" font-size="14.5" textLength="31.9" lengthAdjust="spacingAndGlyphs">Age³</text>
<text x="315.3" y="84.6" font-size="13" textLength="63.6" lengthAdjust="spacingAndGlyphs">Zscore = 3</text>
<text x="309.2" y="250.9" font-size="13" textLength="75" lengthAdjust="spacingAndGlyphs">Zscore = -11</text>
<text x="315.3" y="414.7" font-size="13" textLength="64.2" lengthAdjust="spacingAndGlyphs">Zscore = 0</text>
<rect x="274.4" y="500.1" width="141.7" height="13.6" fill="url(#cb)" stroke="#8a9a8a" stroke-width=".4"/>
<text x="330.9" y="497" font-size="13" textLength="37.1" lengthAdjust="spacingAndGlyphs">Zscore</text>
<text x="265" y="525.7" font-size="12">-11</text>
<text x="394" y="525.7" font-size="12" text-anchor="middle">0</text>
<text x="414.6" y="525.7" font-size="12" text-anchor="middle">3</text>
<path d="M489.1 498.2H508.9" stroke="#0000ff" stroke-width="4.3"/>
<path d="M490.3 514.2H509.6" stroke="#ff0000" stroke-width="4.3"/>
<text x="517.6" y="501.9" font-size="12" font-weight="700" textLength="25.3" lengthAdjust="spacingAndGlyphs">ASD</text>
<text x="518.4" y="518.2" font-size="12" font-weight="700" textLength="16.6" lengthAdjust="spacingAndGlyphs">TD</text>
</svg></body></html>
